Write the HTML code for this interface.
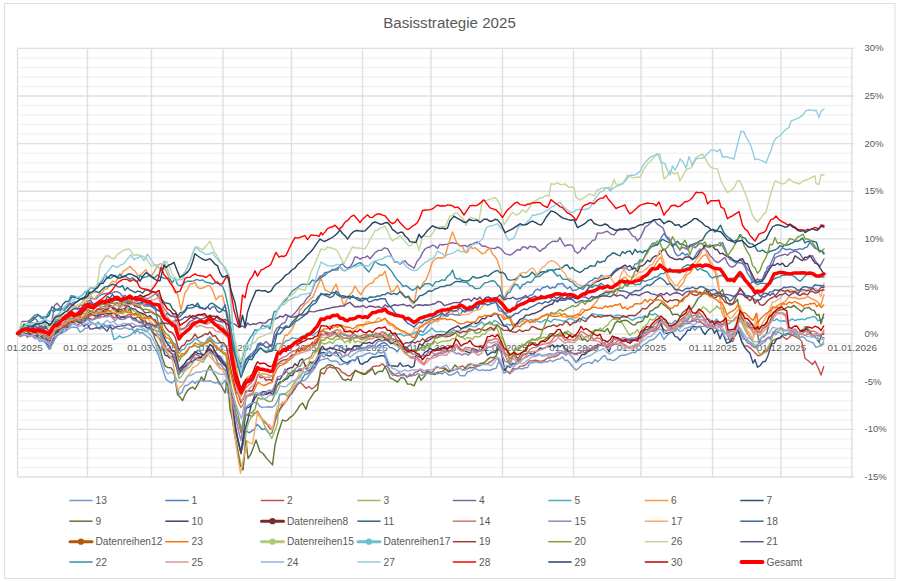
<!DOCTYPE html>
<html><head><meta charset="utf-8"><title>Basisstrategie 2025</title>
<style>
html,body{margin:0;padding:0;background:#fff;}
body{width:900px;height:582px;overflow:hidden;font-family:"Liberation Sans",sans-serif;}
svg{display:block}
.ax{font-family:"Liberation Sans",sans-serif;font-size:9.9px;fill:#595959;}
.ay{font-family:"Liberation Sans",sans-serif;font-size:9.5px;fill:#595959;}
.lg{font-family:"Liberation Sans",sans-serif;font-size:10.2px;fill:#595959;}
.tt{font-family:"Liberation Sans",sans-serif;font-size:15.1px;fill:#595959;}
</style></head><body>
<svg width="900" height="582" viewBox="0 0 900 582">
<defs><clipPath id="cc"><rect x="5.5" y="4" width="889" height="574"/></clipPath></defs>
<rect x="0" y="0" width="900" height="582" fill="#ffffff"/>
<rect x="4.5" y="3.5" width="890.5" height="575" fill="#ffffff" stroke="#E0E0E0" stroke-width="1"/>
<g>
<line x1="17.5" y1="477.02" x2="854.2" y2="477.02" stroke="#DFDFDF" stroke-width="1.4"/>
<line x1="17.5" y1="467.50" x2="854.2" y2="467.50" stroke="#F3F3F3" stroke-width="1.5"/>
<line x1="17.5" y1="457.97" x2="854.2" y2="457.97" stroke="#F3F3F3" stroke-width="1.5"/>
<line x1="17.5" y1="448.45" x2="854.2" y2="448.45" stroke="#F3F3F3" stroke-width="1.5"/>
<line x1="17.5" y1="438.92" x2="854.2" y2="438.92" stroke="#F3F3F3" stroke-width="1.5"/>
<line x1="17.5" y1="429.40" x2="854.2" y2="429.40" stroke="#DFDFDF" stroke-width="1.4"/>
<line x1="17.5" y1="419.88" x2="854.2" y2="419.88" stroke="#F3F3F3" stroke-width="1.5"/>
<line x1="17.5" y1="410.35" x2="854.2" y2="410.35" stroke="#F3F3F3" stroke-width="1.5"/>
<line x1="17.5" y1="400.82" x2="854.2" y2="400.82" stroke="#F3F3F3" stroke-width="1.5"/>
<line x1="17.5" y1="391.30" x2="854.2" y2="391.30" stroke="#F3F3F3" stroke-width="1.5"/>
<line x1="17.5" y1="381.77" x2="854.2" y2="381.77" stroke="#DFDFDF" stroke-width="1.4"/>
<line x1="17.5" y1="372.25" x2="854.2" y2="372.25" stroke="#F3F3F3" stroke-width="1.5"/>
<line x1="17.5" y1="362.72" x2="854.2" y2="362.72" stroke="#F3F3F3" stroke-width="1.5"/>
<line x1="17.5" y1="353.20" x2="854.2" y2="353.20" stroke="#F3F3F3" stroke-width="1.5"/>
<line x1="17.5" y1="343.67" x2="854.2" y2="343.67" stroke="#F3F3F3" stroke-width="1.5"/>
<line x1="17.5" y1="334.15" x2="854.2" y2="334.15" stroke="#DFDFDF" stroke-width="1.4"/>
<line x1="17.5" y1="324.62" x2="854.2" y2="324.62" stroke="#F3F3F3" stroke-width="1.5"/>
<line x1="17.5" y1="315.10" x2="854.2" y2="315.10" stroke="#F3F3F3" stroke-width="1.5"/>
<line x1="17.5" y1="305.57" x2="854.2" y2="305.57" stroke="#F3F3F3" stroke-width="1.5"/>
<line x1="17.5" y1="296.05" x2="854.2" y2="296.05" stroke="#F3F3F3" stroke-width="1.5"/>
<line x1="17.5" y1="286.52" x2="854.2" y2="286.52" stroke="#DFDFDF" stroke-width="1.4"/>
<line x1="17.5" y1="277.00" x2="854.2" y2="277.00" stroke="#F3F3F3" stroke-width="1.5"/>
<line x1="17.5" y1="267.47" x2="854.2" y2="267.47" stroke="#F3F3F3" stroke-width="1.5"/>
<line x1="17.5" y1="257.95" x2="854.2" y2="257.95" stroke="#F3F3F3" stroke-width="1.5"/>
<line x1="17.5" y1="248.42" x2="854.2" y2="248.42" stroke="#F3F3F3" stroke-width="1.5"/>
<line x1="17.5" y1="238.90" x2="854.2" y2="238.90" stroke="#DFDFDF" stroke-width="1.4"/>
<line x1="17.5" y1="229.37" x2="854.2" y2="229.37" stroke="#F3F3F3" stroke-width="1.5"/>
<line x1="17.5" y1="219.85" x2="854.2" y2="219.85" stroke="#F3F3F3" stroke-width="1.5"/>
<line x1="17.5" y1="210.32" x2="854.2" y2="210.32" stroke="#F3F3F3" stroke-width="1.5"/>
<line x1="17.5" y1="200.80" x2="854.2" y2="200.80" stroke="#F3F3F3" stroke-width="1.5"/>
<line x1="17.5" y1="191.27" x2="854.2" y2="191.27" stroke="#DFDFDF" stroke-width="1.4"/>
<line x1="17.5" y1="181.75" x2="854.2" y2="181.75" stroke="#F3F3F3" stroke-width="1.5"/>
<line x1="17.5" y1="172.22" x2="854.2" y2="172.22" stroke="#F3F3F3" stroke-width="1.5"/>
<line x1="17.5" y1="162.70" x2="854.2" y2="162.70" stroke="#F3F3F3" stroke-width="1.5"/>
<line x1="17.5" y1="153.17" x2="854.2" y2="153.17" stroke="#F3F3F3" stroke-width="1.5"/>
<line x1="17.5" y1="143.65" x2="854.2" y2="143.65" stroke="#DFDFDF" stroke-width="1.4"/>
<line x1="17.5" y1="134.12" x2="854.2" y2="134.12" stroke="#F3F3F3" stroke-width="1.5"/>
<line x1="17.5" y1="124.60" x2="854.2" y2="124.60" stroke="#F3F3F3" stroke-width="1.5"/>
<line x1="17.5" y1="115.07" x2="854.2" y2="115.07" stroke="#F3F3F3" stroke-width="1.5"/>
<line x1="17.5" y1="105.55" x2="854.2" y2="105.55" stroke="#F3F3F3" stroke-width="1.5"/>
<line x1="17.5" y1="96.02" x2="854.2" y2="96.02" stroke="#DFDFDF" stroke-width="1.4"/>
<line x1="17.5" y1="86.50" x2="854.2" y2="86.50" stroke="#F3F3F3" stroke-width="1.5"/>
<line x1="17.5" y1="76.97" x2="854.2" y2="76.97" stroke="#F3F3F3" stroke-width="1.5"/>
<line x1="17.5" y1="67.45" x2="854.2" y2="67.45" stroke="#F3F3F3" stroke-width="1.5"/>
<line x1="17.5" y1="57.92" x2="854.2" y2="57.92" stroke="#F3F3F3" stroke-width="1.5"/>
<line x1="17.5" y1="48.40" x2="854.2" y2="48.40" stroke="#DFDFDF" stroke-width="1.4"/>
<line x1="17.5" y1="48.4" x2="17.5" y2="477.0" stroke="#DFDFDF" stroke-width="1.4"/>
<line x1="87.5" y1="48.4" x2="87.5" y2="477.0" stroke="#DFDFDF" stroke-width="1.4"/>
<line x1="151.5" y1="48.4" x2="151.5" y2="477.0" stroke="#DFDFDF" stroke-width="1.4"/>
<line x1="223.0" y1="48.4" x2="223.0" y2="477.0" stroke="#DFDFDF" stroke-width="1.4"/>
<line x1="291.5" y1="48.4" x2="291.5" y2="477.0" stroke="#DFDFDF" stroke-width="1.4"/>
<line x1="362.5" y1="48.4" x2="362.5" y2="477.0" stroke="#DFDFDF" stroke-width="1.4"/>
<line x1="431.0" y1="48.4" x2="431.0" y2="477.0" stroke="#DFDFDF" stroke-width="1.4"/>
<line x1="502.5" y1="48.4" x2="502.5" y2="477.0" stroke="#DFDFDF" stroke-width="1.4"/>
<line x1="573.5" y1="48.4" x2="573.5" y2="477.0" stroke="#DFDFDF" stroke-width="1.4"/>
<line x1="641.0" y1="48.4" x2="641.0" y2="477.0" stroke="#DFDFDF" stroke-width="1.4"/>
<line x1="712.5" y1="48.4" x2="712.5" y2="477.0" stroke="#DFDFDF" stroke-width="1.4"/>
<line x1="781.0" y1="48.4" x2="781.0" y2="477.0" stroke="#DFDFDF" stroke-width="1.4"/>
<line x1="851.8" y1="48.4" x2="851.8" y2="477.0" stroke="#DFDFDF" stroke-width="1.4"/>
</g>
<text x="449.5" y="27.5" class="tt" text-anchor="middle">Basisstrategie 2025</text>
<g><text x="864.5" y="480.0" class="ay">-15%</text>
<text x="864.5" y="432.4" class="ay">-10%</text>
<text x="864.5" y="384.8" class="ay">-5%</text>
<text x="864.5" y="337.1" class="ay">0%</text>
<text x="864.5" y="289.5" class="ay">5%</text>
<text x="864.5" y="241.9" class="ay">10%</text>
<text x="864.5" y="194.3" class="ay">15%</text>
<text x="864.5" y="146.6" class="ay">20%</text>
<text x="864.5" y="99.0" class="ay">25%</text>
<text x="864.5" y="51.4" class="ay">30%</text></g>
<g clip-path="url(#cc)"><text x="18.0" y="351.2" class="ax" text-anchor="middle">01.01.2025</text>
<text x="88.0" y="351.2" class="ax" text-anchor="middle">01.02.2025</text>
<text x="152.0" y="351.2" class="ax" text-anchor="middle">01.03.2025</text>
<text x="223.5" y="351.2" class="ax" text-anchor="middle">01.04.2025</text>
<text x="292.0" y="351.2" class="ax" text-anchor="middle">01.05.2025</text>
<text x="363.0" y="351.2" class="ax" text-anchor="middle">01.06.2025</text>
<text x="431.5" y="351.2" class="ax" text-anchor="middle">01.07.2025</text>
<text x="503.0" y="351.2" class="ax" text-anchor="middle">01.08.2025</text>
<text x="574.0" y="351.2" class="ax" text-anchor="middle">01.09.2025</text>
<text x="641.5" y="351.2" class="ax" text-anchor="middle">01.10.2025</text>
<text x="713.0" y="351.2" class="ax" text-anchor="middle">01.11.2025</text>
<text x="781.5" y="351.2" class="ax" text-anchor="middle">01.12.2025</text>
<text x="852.3" y="351.2" class="ax" text-anchor="middle">01.01.2026</text></g>
<g fill="none" stroke-linejoin="round" stroke-linecap="round">
<polyline points="17.5,334.0 20.0,331.7 22.5,330.6 25.0,327.8 27.5,326.2 30.0,323.7 32.5,323.0 35.0,323.0 37.5,322.0 40.0,322.4 42.5,321.0 45.0,320.4 47.5,323.3 50.0,324.5 53.0,322.2 56.0,316.5 58.7,314.8 61.3,309.9 64.0,308.4 66.7,306.2 69.3,304.5 72.0,303.3 74.7,301.8 77.3,301.6 80.0,299.4 82.7,299.2 85.3,297.9 88.0,295.4 90.7,299.0 93.3,298.4 96.0,299.1 99.0,296.0 102.0,294.3 105.0,293.7 107.5,293.2 110.0,293.8 112.5,292.9 115.0,291.6 117.5,291.8 120.0,293.1 122.5,296.5 125.0,295.3 127.5,297.5 130.0,298.6 132.5,297.2 135.0,300.0 137.5,300.9 140.0,296.6 142.5,297.7 145.0,297.9 147.5,299.3 150.0,303.5 152.5,305.5 155.0,306.7 157.5,320.1 160.0,330.6 163.0,340.4 166.0,349.3 169.0,351.3 172.0,353.6 175.0,354.8 179.0,370.6 181.7,366.6 184.3,364.0 187.0,360.9 189.7,357.3 192.3,354.4 195.0,353.2 197.7,350.2 200.3,351.7 203.0,355.2 205.3,353.5 207.7,350.0 210.0,344.3 212.7,346.2 215.3,352.7 218.0,355.3 220.7,356.5 223.3,361.1 226.0,363.0 228.5,377.4 231.0,392.2 233.5,410.6 236.0,429.4 238.5,440.9 241.0,452.5 243.5,442.8 246.0,430.6 249.0,432.8 252.0,430.9 254.5,429.0 257.0,424.2 259.7,426.7 262.3,429.7 265.0,428.4 267.3,431.2 269.7,434.0 272.0,432.8 276.0,418.4 279.0,411.9 282.0,404.9 284.7,402.2 287.3,399.3 290.0,395.1 292.3,393.3 294.7,387.7 297.0,384.6 299.7,382.9 302.3,378.6 305.0,374.2 307.3,373.9 309.7,372.4 312.0,367.6 315.0,362.5 318.0,359.9 321.0,349.9 324.0,348.7 327.0,350.4 330.0,347.1 332.5,349.4 335.0,345.6 337.5,345.3 340.0,346.6 342.5,348.3 345.0,349.3 347.5,349.6 350.0,350.1 352.5,349.8 355.0,349.8 357.5,348.4 360.0,348.2 363.0,348.2 366.0,347.1 369.0,347.5 372.0,346.5 375.2,348.0 378.5,345.3 381.8,343.3 385.0,342.7 387.3,344.6 389.7,347.5 392.0,347.7 394.7,349.3 397.3,351.8 400.0,347.7 402.5,347.7 405.0,347.7 407.5,346.8 410.0,345.2 412.5,341.0 415.0,338.8 417.5,335.0 420.0,330.5 423.1,332.1 426.2,327.7 429.4,324.0 432.5,322.4 435.6,320.5 438.8,319.1 441.9,314.1 445.0,315.6 447.5,316.3 450.0,313.6 452.5,314.2 455.0,314.9 457.5,314.7 460.0,315.3 462.5,311.0 465.0,312.2 467.5,310.5 470.0,310.7 472.5,310.3 475.0,305.1 477.5,307.5 480.0,302.6 482.5,303.3 485.0,299.7 487.8,301.3 490.5,302.6 493.2,301.0 496.0,301.2 499.0,310.7 501.5,311.4 504.0,312.4 507.0,313.3 510.0,310.9 512.5,307.4 515.0,308.6 517.5,301.5 520.0,300.8 522.5,298.3 525.0,297.6 527.5,297.2 530.0,295.2 532.5,294.7 535.0,290.7 537.5,289.0 540.0,290.6 542.5,287.8 545.0,287.2 547.5,286.0 550.0,288.6 552.5,287.3 555.0,287.8 557.5,284.0 560.0,284.0 562.5,283.3 565.0,286.5 567.5,288.8 570.0,286.7 572.5,290.5 575.0,290.4 577.5,289.4 580.0,288.2 583.0,289.3 586.0,285.1 589.0,281.7 592.0,280.4 595.0,277.9 598.1,278.9 601.2,275.2 604.4,276.9 607.5,276.3 610.6,275.2 613.8,271.3 616.9,268.4 620.0,268.4 623.1,267.9 626.2,268.4 629.4,270.5 632.5,268.8 635.0,264.0 637.5,263.6 640.0,259.7 642.5,260.7 645.0,255.7 647.5,250.5 650.0,246.7 652.5,243.2 655.0,243.3 657.5,245.2 660.8,238.2 664.0,233.4 667.0,238.2 670.0,241.4 672.5,245.2 675.0,252.7 677.5,255.8 680.0,255.1 682.5,252.4 685.0,255.0 687.5,254.0 690.0,257.7 692.5,259.8 695.0,256.2 697.5,251.9 700.0,249.2 702.5,249.9 705.0,246.7 707.5,245.5 710.0,246.7 712.5,245.6 715.0,244.9 717.5,244.6 720.0,246.0 722.5,242.5 725.0,248.4 727.5,255.2 730.0,259.7 732.5,260.4 735.0,262.4 737.5,262.6 740.0,262.8 742.5,263.6 745.0,266.9 747.5,273.4 750.0,276.9 752.5,281.7 755.0,280.8 757.5,279.1 760.0,280.1 762.5,278.9 765.0,275.4 767.5,267.0 770.0,265.3 772.5,259.5 775.0,253.9 777.5,253.2 780.0,250.9 782.5,247.8 785.0,249.2 787.5,249.7 790.0,248.9 792.5,250.2 795.0,249.7 797.5,249.5 800.0,248.6 802.5,249.3 805.0,247.6 807.3,246.9 809.7,242.4 812.0,244.8 815.0,248.3 818.0,249.7 821.0,250.8 824.0,252.5" stroke="#4F81BD" stroke-width="1.4"/>
<polyline points="17.5,334.0 20.0,336.5 22.5,332.1 25.0,334.4 27.5,337.4 30.0,334.2 32.5,336.3 35.0,337.7 37.5,336.7 40.0,338.2 42.5,339.5 45.0,338.2 47.5,341.6 50.0,344.3 53.0,339.6 56.0,333.0 58.7,331.2 61.3,328.3 64.0,327.7 66.7,327.6 69.3,325.6 72.0,323.2 74.7,322.3 77.3,326.0 80.0,323.0 82.5,322.3 85.0,316.8 87.5,319.3 90.0,318.4 92.5,319.7 95.0,317.9 97.5,316.5 100.0,316.5 102.5,313.0 105.0,316.0 107.5,315.1 110.0,313.4 112.5,316.6 115.0,318.1 117.5,314.8 120.0,316.4 122.5,316.7 125.0,316.3 127.5,315.0 130.0,314.1 132.5,318.7 135.0,318.8 137.5,316.7 140.0,317.8 142.5,321.8 145.0,322.1 147.5,323.9 150.0,322.7 152.5,323.8 155.0,327.2 157.5,326.7 160.0,331.3 163.0,339.5 166.0,348.5 169.0,350.3 172.0,354.4 175.0,358.4 179.0,372.3 181.7,370.1 184.3,367.1 187.0,363.7 189.7,362.1 192.3,358.2 195.0,354.3 197.7,355.2 200.3,356.9 203.0,357.9 205.3,354.9 207.7,351.4 210.0,348.2 212.7,351.2 215.3,353.0 218.0,358.4 220.7,361.5 223.3,363.4 226.0,364.8 228.5,379.2 231.0,391.1 233.5,401.1 236.0,415.1 238.5,421.9 241.0,432.7 243.5,423.1 246.0,415.1 248.9,414.7 251.8,416.8 254.6,413.5 257.5,411.3 260.0,415.2 262.5,420.5 265.0,422.7 267.5,424.8 270.0,428.7 272.5,429.6 275.0,419.8 277.5,410.5 280.6,408.4 283.8,404.1 286.9,400.3 290.0,394.0 292.5,391.5 295.0,389.0 297.5,384.3 300.0,382.0 303.0,385.0 306.0,388.3 308.9,386.5 311.8,389.0 314.6,387.0 317.5,383.8 321.0,372.6 324.0,374.0 327.0,368.3 330.0,366.8 333.0,368.0 336.0,367.5 339.2,368.7 342.5,372.7 345.0,373.6 347.5,375.7 350.0,375.7 353.0,372.8 356.0,370.8 359.0,372.1 362.0,373.0 365.0,374.0 367.5,371.2 370.0,369.6 373.1,366.6 376.2,366.0 379.4,365.9 382.5,363.7 385.0,366.4 387.5,366.3 390.0,370.4 392.5,373.0 395.0,375.1 397.5,376.0 400.6,375.6 403.8,373.6 406.9,377.3 410.0,375.5 412.5,375.7 415.0,372.1 417.5,371.6 420.0,369.4 422.5,372.3 425.0,373.1 427.5,369.9 430.0,372.5 432.5,372.1 435.0,368.5 437.5,367.2 440.0,368.0 442.5,368.3 445.0,368.0 447.5,370.2 450.0,371.2 452.5,370.5 455.0,369.5 457.5,369.4 460.0,367.0 462.5,365.9 465.0,367.8 467.5,369.0 470.0,367.5 472.5,367.7 475.0,367.0 477.5,366.4 480.0,363.4 482.5,363.1 485.0,364.2 487.5,363.8 490.0,361.9 492.5,360.6 495.0,358.1 497.5,358.1 500.8,364.1 504.0,369.9 507.0,371.2 510.0,373.8 512.5,368.7 515.0,368.9 517.5,368.9 520.0,366.1 523.1,366.1 526.2,364.5 529.4,360.9 532.5,360.8 535.6,360.1 538.8,361.0 541.9,361.1 545.0,360.0 547.5,358.0 550.0,357.7 552.5,356.9 555.0,356.7 557.5,355.5 560.0,353.4 562.5,351.5 565.0,352.2 567.5,351.6 570.0,351.6 572.5,353.2 575.0,353.6 577.5,353.3 580.0,353.2 582.5,351.3 585.0,353.1 587.5,349.8 590.0,350.9 592.5,349.1 595.0,349.0 597.5,344.2 600.0,345.1 602.5,345.9 605.0,345.5 607.5,347.6 610.0,344.9 612.5,345.3 615.0,343.7 617.5,344.0 620.0,342.9 622.5,341.4 625.0,341.5 627.5,339.3 630.0,341.8 632.5,339.1 635.0,340.2 637.5,341.3 640.0,337.6 642.5,336.3 645.0,336.0 647.5,333.8 650.0,331.5 652.5,331.4 655.0,330.5 658.0,328.4 661.0,324.3 663.3,329.1 665.7,330.9 668.0,330.0 670.3,330.1 672.7,328.2 675.0,329.3 677.5,326.0 680.0,326.7 682.5,324.5 685.0,323.4 687.3,323.5 689.7,323.2 692.0,320.0 694.7,320.0 697.3,322.1 700.0,321.7 702.7,323.3 705.3,326.0 708.0,326.0 710.9,324.0 713.8,326.6 716.7,323.0 719.9,325.5 723.0,324.4 725.0,320.0 728.0,336.4 730.5,341.5 733.0,341.2 735.5,333.8 738.0,328.6 741.7,341.5 744.5,346.0 747.2,345.9 750.0,347.9 752.5,350.0 755.0,352.9 758.0,355.7 760.9,355.0 763.8,351.5 766.7,351.6 769.9,346.0 773.0,340.4 775.5,339.2 778.0,338.2 780.2,338.0 782.5,336.3 786.7,339.4 789.2,337.5 791.7,334.9 794.2,336.0 796.7,337.4 799.2,338.6 801.7,341.4 805.0,358.3 807.5,360.3 810.0,362.2 812.5,364.5 815.0,361.1 818.0,367.5 821.0,375.0 823.7,366.7" stroke="#C0504D" stroke-width="1.4"/>
<polyline points="17.5,334.0 19.8,333.1 22.0,336.5 25.0,333.2 27.5,333.3 30.0,334.5 32.5,334.3 35.0,335.3 37.5,336.0 40.0,338.0 42.5,335.7 45.0,338.2 47.8,344.2 50.5,349.1 53.2,339.6 56.0,332.6 58.7,329.3 61.3,329.3 64.0,327.7 66.7,325.8 69.3,324.4 72.0,321.9 74.7,319.6 77.3,320.4 80.0,320.4 82.5,318.0 85.0,317.3 87.5,317.2 90.0,314.2 92.5,315.2 95.0,316.1 97.5,312.4 100.0,312.1 102.5,311.3 105.0,313.0 107.5,311.2 110.0,310.8 112.5,310.0 115.0,311.4 117.5,312.2 120.0,311.4 122.5,313.9 125.0,312.4 127.5,307.9 130.0,309.7 132.5,309.8 135.0,312.0 137.5,313.3 140.0,312.7 142.5,314.8 145.0,317.9 147.5,316.5 150.0,317.1 152.5,319.2 155.0,322.1 157.5,327.2 160.0,331.5 163.0,340.6 166.0,350.2 169.0,357.0 172.0,357.8 175.0,361.4 179.0,378.5 181.7,376.0 184.3,371.4 187.0,368.9 189.7,366.9 192.3,363.7 195.0,358.8 197.7,360.5 200.3,360.6 203.0,362.4 205.3,358.4 207.7,355.2 210.0,351.7 212.7,357.7 215.3,362.7 218.0,364.7 220.7,368.7 223.3,368.9 226.0,372.1 228.5,389.4 231.0,406.4 233.5,422.1 236.0,439.9 238.5,453.2 241.0,464.7 243.0,470.0 246.0,431.4 249.0,421.3 251.6,416.7 254.1,412.5 256.7,412.5 259.4,416.2 262.0,419.5 265.3,427.5 268.5,432.5 271.8,438.5 275.0,430.4 277.5,423.6 279.4,394.4 282.6,393.6 285.8,393.4 289.0,390.9 292.0,387.1 295.0,381.4 297.7,379.1 300.3,377.6 303.0,371.4 305.7,372.7 308.3,366.3 311.0,364.0 313.3,361.5 315.7,360.0 318.0,354.9 321.0,342.1 324.0,344.0 327.0,343.2 330.0,341.6 332.5,343.8 335.0,340.3 337.5,339.2 340.0,338.8 342.5,339.8 345.0,342.7 347.5,340.5 350.0,342.7 352.5,337.8 355.0,342.4 357.5,341.1 360.0,341.8 363.0,343.2 366.0,340.4 369.0,339.2 372.0,338.6 375.2,337.4 378.5,337.0 381.8,338.2 385.0,337.0 387.3,338.9 389.7,340.1 392.0,342.8 394.7,344.6 397.3,345.9 400.0,348.6 402.5,348.8 405.0,348.5 407.5,352.7 410.0,352.4 412.5,350.3 415.0,351.8 417.5,350.4 420.0,347.6 422.5,350.2 425.0,347.8 427.5,347.3 430.0,345.2 432.5,344.2 435.0,341.5 437.5,343.7 440.0,342.0 442.5,341.3 445.0,341.4 447.5,340.7 450.0,340.6 452.5,338.8 455.0,338.4 457.5,335.0 460.0,336.6 462.5,337.7 465.0,339.3 467.5,337.5 470.0,337.9 472.5,339.3 475.0,336.4 477.5,336.7 480.0,336.5 482.5,333.9 485.0,334.1 487.5,330.6 490.0,330.2 492.3,328.8 494.7,328.1 497.0,328.0 500.0,336.6 503.0,339.4 505.3,344.7 507.7,350.6 510.0,354.1 512.3,353.4 514.7,351.2 517.0,347.8 519.7,347.8 522.3,344.1 525.0,345.7 527.5,341.5 530.0,341.3 532.5,340.3 535.0,339.6 537.5,340.2 540.0,338.8 542.5,337.3 545.0,337.5 547.5,338.5 550.0,336.3 552.5,336.0 555.0,336.1 557.5,334.9 560.0,332.4 562.5,336.5 565.0,335.0 567.5,330.6 570.0,332.5 573.1,334.6 576.2,337.5 579.4,339.2 582.5,339.8 585.0,336.9 587.5,336.2 590.0,335.7 592.5,331.5 595.0,330.7 597.5,331.0 600.0,328.1 602.5,329.8 605.0,326.6 607.5,325.4 610.0,321.7 612.5,319.2 615.0,319.4 617.5,319.8 620.0,319.4 622.5,323.5 625.0,328.0 627.5,332.2 630.0,335.5 632.5,332.9 635.0,332.6 637.5,329.5 640.0,334.2 642.5,327.9 645.0,326.0 647.5,323.8 650.0,318.8 652.5,320.1 655.0,318.8 657.5,315.8 660.0,317.8 662.5,321.8 665.0,321.5 667.5,327.6 670.0,330.2 672.5,329.2 675.0,327.7 677.5,327.3 680.0,323.8 682.5,324.1 685.0,321.0 687.5,320.7 690.0,316.9 692.5,315.7 695.0,315.6 697.7,312.5 700.3,309.9 703.0,307.0 705.3,308.3 707.7,310.8 710.0,312.8 712.3,310.6 714.7,308.8 717.0,306.0 720.0,308.9 723.0,307.6 726.7,327.5 729.9,332.9 733.0,335.1 735.5,326.4 738.0,317.5 741.7,322.8 744.5,328.8 747.2,333.6 750.0,336.9 752.5,342.1 755.0,345.2 759.0,353.1 762.0,354.6 765.0,352.7 767.5,347.7 770.0,343.7 773.0,335.2 775.9,331.4 778.8,331.1 781.7,328.2 784.2,334.6 786.7,333.6 789.9,334.9 793.0,331.1 795.3,334.2 797.7,337.0 800.0,332.7 802.5,330.4 805.0,326.5 807.5,328.4 810.0,330.4 812.2,335.1 814.5,334.2 816.7,333.5 819.2,342.4 821.7,346.0 823.7,341.0" stroke="#9BBB59" stroke-width="1.4"/>
<polyline points="17.5,334.0 19.8,329.5 22.0,321.5 25.0,321.4 28.0,321.1 31.0,319.7 34.0,317.7 37.0,320.3 40.0,327.1 43.0,332.6 46.0,337.3 49.5,348.8 52.0,320.4 54.5,305.6 57.0,303.2 59.5,306.2 62.0,308.8 64.7,307.8 67.3,307.3 70.0,302.8 72.5,305.7 75.0,306.2 77.5,309.2 80.0,305.1 82.5,305.3 85.0,304.6 87.5,304.9 90.0,302.6 92.5,305.2 95.0,303.2 97.5,304.7 100.0,304.5 103.0,304.2 106.0,302.1 109.0,299.8 112.0,302.1 115.0,300.3 118.0,299.8 121.0,301.0 124.0,302.5 127.0,300.5 130.0,301.9 132.9,303.1 135.7,303.9 138.6,303.4 141.4,301.5 144.3,306.1 147.1,306.0 150.0,306.0 152.5,307.2 155.0,309.3 157.5,310.0 160.0,311.1 162.5,314.2 165.0,317.6 167.5,320.8 170.0,324.0 172.5,326.9 175.0,325.9 177.5,329.4 180.0,329.1 182.5,328.6 185.0,327.9 187.5,324.5 190.0,321.3 192.5,320.4 195.0,318.7 197.5,314.5 200.0,314.5 203.0,315.6 206.0,315.9 209.0,317.3 212.0,318.7 215.2,320.0 218.5,321.3 221.8,322.0 225.0,321.7 227.3,329.8 229.7,337.0 232.0,344.7 235.0,352.4 238.0,358.0 241.0,367.7 244.0,363.3 247.0,358.0 250.0,355.0 252.5,353.0 255.0,349.9 257.5,350.2 260.0,342.7 263.0,344.6 266.0,341.6 269.0,344.4 272.0,345.4 274.5,332.4 277.0,328.1 279.7,326.2 282.3,323.6 285.0,322.5 288.1,316.0 291.2,316.7 294.4,313.6 297.5,310.0 300.6,305.6 303.8,303.2 306.9,298.2 310.0,295.2 312.5,289.5 315.0,282.5 317.5,280.3 320.0,276.2 322.5,275.7 325.0,272.5 327.5,272.1 330.0,271.6 332.5,269.9 335.0,270.1 337.5,270.1 340.0,265.2 342.5,263.9 345.0,266.8 347.5,268.1 350.0,266.8 352.5,263.1 355.0,256.9 357.5,257.2 360.0,259.3 362.5,257.6 365.0,257.4 367.5,255.9 370.0,258.7 372.5,255.7 375.5,252.3 378.5,250.4 381.5,250.2 384.5,247.8 387.5,248.7 390.0,253.0 392.5,258.0 395.0,262.3 397.5,261.8 400.0,264.2 402.5,262.4 405.0,260.7 408.0,264.4 411.0,266.2 414.0,268.3 417.0,261.5 420.0,257.9 422.5,252.6 425.0,249.0 427.5,247.5 430.0,247.0 432.5,245.1 435.0,246.1 437.5,248.4 440.0,244.4 442.5,245.0 445.0,244.4 447.5,244.2 450.0,243.2 452.5,242.6 455.0,243.3 457.5,243.7 460.0,245.7 462.5,245.8 465.0,245.4 467.5,246.8 470.0,244.5 472.5,244.2 475.0,242.7 477.5,241.9 480.0,243.9 482.5,246.4 485.0,246.0 487.5,247.4 490.0,248.4 492.5,248.4 495.0,248.6 497.5,246.9 500.0,248.1 502.5,250.4 505.0,253.7 507.5,254.4 510.0,255.2 512.5,253.8 515.0,251.6 517.5,249.5 520.0,250.4 522.5,247.0 525.0,246.9 527.5,248.8 530.0,246.1 532.5,247.1 535.0,246.8 537.5,249.2 540.0,251.5 542.5,249.0 545.0,248.0 547.5,244.8 550.0,243.0 552.5,241.4 555.0,241.3 557.5,241.6 560.0,237.7 562.5,242.7 565.0,246.2 567.5,245.0 570.0,244.8 572.5,245.7 575.0,251.3 577.5,253.1 580.0,251.6 582.5,247.3 585.0,249.2 587.5,245.4 590.0,243.7 592.5,240.4 595.0,239.9 597.5,233.0 600.0,233.1 602.5,233.1 605.0,231.9 607.5,231.3 611.0,234.2 614.2,234.9 617.5,230.4 620.0,228.7 622.5,229.9 625.0,229.2 627.5,229.1 630.0,232.1 632.5,235.8 635.0,236.8 637.5,240.9 640.0,238.1 642.5,233.1 645.0,227.4 648.0,225.3 651.0,222.4 654.0,220.0 657.0,223.9 660.0,225.9 663.0,228.0 666.0,236.0 669.2,238.4 672.5,244.6 675.0,244.1 677.5,246.4 680.0,249.5 682.5,247.3 685.0,248.2 687.5,249.7 690.0,246.5 692.5,245.7 695.0,247.8 697.5,245.4 700.0,243.2 702.5,243.7 705.0,249.1 707.5,251.4 710.0,255.7 712.5,258.0 715.0,261.1 717.5,262.7 720.0,261.4 722.5,259.1 725.0,257.7 727.5,263.2 730.0,266.4 732.5,267.2 735.0,265.6 737.5,262.3 740.0,259.0 742.5,262.1 745.0,264.5 747.5,269.5 750.0,271.4 752.5,278.6 755.0,281.5 757.5,279.0 760.0,281.3 762.5,279.8 765.0,272.1 767.5,271.7 770.0,265.7 772.5,265.0 775.0,257.8 777.5,256.5 780.0,255.7 782.5,255.0 785.0,254.2 787.5,255.4 790.0,252.7 792.5,252.1 795.0,251.0 797.5,252.0 800.0,253.9 802.5,257.8 805.0,260.2 807.5,258.8 810.0,256.5 812.5,255.6 815.0,260.4 817.5,263.8 820.0,266.1 824.0,259.0" stroke="#8064A2" stroke-width="1.4"/>
<polyline points="17.5,334.0 20.0,332.2 22.5,333.3 25.0,329.5 27.5,330.1 30.0,329.7 32.5,326.9 35.0,326.7 37.5,324.0 40.0,326.1 42.5,324.9 45.0,322.6 47.5,326.9 50.0,327.2 53.0,325.8 56.0,319.4 58.7,319.4 61.3,319.0 64.0,317.7 66.7,317.7 69.3,316.0 72.0,316.6 74.7,316.6 77.3,317.6 80.0,315.5 82.3,320.2 84.7,319.6 87.0,318.4 89.8,321.4 92.5,322.9 95.4,324.3 98.3,322.1 101.2,325.6 104.2,324.2 107.1,327.7 110.0,324.9 114.0,339.6 116.7,338.2 119.4,335.9 122.1,337.8 124.8,337.2 127.5,336.4 130.6,335.1 133.8,332.0 136.9,329.0 140.0,329.4 143.0,330.0 146.0,331.8 150.0,328.5 152.5,329.2 155.0,329.7 157.5,331.2 160.0,331.9 163.0,336.3 166.0,340.7 169.0,343.0 172.0,342.6 175.0,343.6 179.0,353.3 181.7,350.0 184.3,349.4 187.0,344.5 189.7,343.8 192.3,342.0 195.0,338.7 197.7,340.0 200.3,342.2 203.0,343.0 205.3,342.9 207.7,338.5 210.0,336.7 212.7,340.2 215.3,342.6 218.0,343.2 220.7,342.5 223.3,345.8 226.0,346.7 228.5,351.3 231.0,354.6 233.5,360.5 236.0,365.7 238.5,367.9 241.0,370.3 243.5,366.3 246.0,360.4 249.0,357.6 252.0,355.8 255.0,350.7 258.0,347.9 260.7,348.2 263.3,350.0 266.0,351.4 269.0,349.3 272.0,350.8 274.5,348.0 277.0,343.7 280.0,343.4 283.0,344.1 286.0,340.8 289.0,340.2 292.0,337.7 295.0,338.4 297.3,338.9 299.7,337.6 302.0,336.4 304.7,335.5 307.3,335.5 310.0,333.7 312.8,335.6 315.5,333.2 318.2,331.3 321.0,331.3 324.0,331.0 327.0,333.6 330.0,334.0 332.5,331.6 335.0,334.5 337.5,335.0 340.0,333.5 342.5,333.0 345.0,334.3 347.5,335.2 350.0,337.3 352.5,336.5 355.0,334.5 357.5,337.3 360.0,336.1 363.1,338.2 366.2,335.2 369.4,335.1 372.5,334.5 375.6,334.4 378.8,336.4 381.9,335.8 385.0,334.5 388.1,334.9 391.2,332.6 394.4,333.8 397.5,334.1 400.6,333.8 403.8,336.0 406.9,334.9 410.0,335.4 413.1,333.9 416.2,331.9 419.4,334.5 422.5,335.3 425.6,333.4 428.8,331.1 431.9,327.9 435.0,331.2 438.1,331.9 441.2,331.3 444.4,331.9 447.5,332.6 450.6,332.2 453.8,329.9 456.9,331.4 460.0,330.7 463.1,327.5 466.2,327.7 469.4,325.8 472.5,326.6 475.6,326.9 478.8,324.2 481.9,321.9 485.0,325.2 488.1,323.3 491.2,324.4 494.4,320.3 497.5,322.0 500.6,324.5 503.8,326.0 506.9,324.2 510.0,325.2 513.0,323.8 516.0,324.3 519.0,323.5 522.0,321.3 525.0,318.8 527.9,321.0 530.7,319.5 533.6,320.7 536.4,320.5 539.3,322.2 542.1,321.8 545.0,319.6 548.0,320.5 551.0,322.0 554.0,319.1 557.0,319.7 560.0,320.1 563.0,321.1 566.0,320.7 569.0,318.6 572.0,318.7 575.0,321.2 577.5,320.1 580.0,322.0 582.5,316.7 585.6,318.9 588.8,317.5 591.9,313.6 595.0,314.3 598.0,315.2 601.0,314.8 604.0,315.5 607.0,316.4 610.2,314.9 613.5,316.4 616.8,315.2 620.0,315.5 623.1,317.3 626.2,316.8 629.4,318.5 632.5,320.4 635.6,318.3 638.8,317.3 641.9,317.7 645.0,315.7 647.5,317.0 650.0,313.6 652.5,315.1 655.0,313.5 658.0,315.5 661.0,320.6 664.0,318.9 667.0,323.4 670.0,323.1 672.5,324.1 675.0,320.3 677.5,322.0 680.0,321.3 682.5,319.1 685.0,317.8 687.5,320.2 690.0,316.2 692.5,315.9 695.0,315.2 697.5,316.5 700.0,316.3 702.7,317.3 705.3,320.3 708.0,318.7 710.9,320.3 713.8,321.7 716.7,319.1 719.9,322.9 723.0,324.1 726.7,324.8 729.9,322.7 733.0,320.8 735.5,317.3 738.0,318.4 740.5,317.5 743.0,322.9 745.3,324.8 747.7,322.3 750.0,324.7 752.2,323.6 754.5,328.3 756.7,328.3 759.9,328.0 763.0,327.5 765.3,326.2 767.7,323.3 770.0,321.7 772.2,320.4 774.5,320.6 776.7,318.9 779.9,321.3 783.0,320.8 785.3,321.0 787.7,323.2 790.0,320.1 792.5,319.0 795.0,320.6 797.5,319.5 800.0,319.5 802.2,318.9 804.5,319.8 806.7,318.3 809.9,317.7 813.0,316.7 815.3,316.9 817.7,320.7 820.0,320.2 823.7,317.5" stroke="#4BACC6" stroke-width="1.4"/>
<polyline points="17.5,334.0 20.0,331.4 22.5,328.4 25.0,328.8 27.7,331.4 30.3,326.3 33.0,325.9 36.0,326.8 39.0,327.1 42.0,327.7 44.7,327.5 47.3,329.0 50.0,333.5 53.0,325.8 56.0,322.8 58.7,317.6 61.3,317.3 64.0,316.2 66.7,314.6 69.3,309.4 72.0,308.5 74.7,307.3 77.3,305.1 80.0,305.4 82.7,301.4 85.3,299.1 88.0,298.0 90.3,295.0 92.7,298.6 95.0,299.1 97.3,295.3 99.7,293.8 102.0,292.7 104.7,289.0 107.3,288.9 110.0,284.0 112.7,281.2 115.3,282.1 118.0,278.4 120.7,276.5 123.3,271.1 126.0,269.7 130.0,266.2 132.5,269.2 135.0,271.0 137.5,275.2 140.0,275.4 143.0,272.5 146.0,269.7 148.5,275.6 151.0,276.8 154.0,271.8 157.0,267.1 160.0,263.6 162.5,264.6 165.0,268.7 167.5,273.9 170.0,280.5 172.5,285.3 175.0,292.5 177.5,293.6 181.0,310.1 185.0,292.7 187.5,289.5 190.0,284.0 192.5,283.8 195.0,282.3 197.5,287.4 200.0,288.6 202.5,288.0 205.0,287.0 207.5,285.7 210.0,285.9 213.0,291.3 216.0,299.9 219.2,296.2 222.5,295.9 225.8,308.8 229.0,317.9 232.5,347.9 235.0,360.4 237.5,372.9 241.0,396.4 245.0,380.9 247.5,376.9 250.0,375.9 252.5,374.2 255.0,370.8 257.5,371.3 260.5,374.3 263.5,373.9 266.5,374.1 269.5,375.5 272.5,375.6 275.0,359.5 277.5,353.9 280.0,347.6 282.5,343.2 285.0,335.0 287.5,335.2 290.0,331.6 292.5,328.6 295.0,323.0 297.5,316.6 300.0,310.1 302.5,307.4 305.0,304.0 307.5,302.3 310.0,299.4 312.8,297.1 315.5,291.0 318.2,284.6 321.0,278.3 325.0,290.0 328.0,291.4 331.0,293.0 333.5,288.4 336.0,284.0 338.7,292.5 341.3,298.0 344.0,306.3 346.8,299.5 349.5,294.8 352.2,292.3 355.0,286.1 358.0,291.0 361.0,294.7 364.2,288.8 367.5,285.3 370.0,283.5 372.5,283.1 375.0,278.7 377.5,277.8 380.0,274.7 382.5,275.2 385.0,271.2 388.0,282.6 391.0,292.0 394.2,290.5 397.5,285.2 400.0,291.5 402.5,293.0 405.0,296.8 408.0,297.3 411.0,302.1 414.0,304.0 417.5,285.5 420.0,289.3 423.1,282.9 426.2,279.5 429.4,271.2 432.5,262.0 435.6,258.6 438.8,257.6 441.9,258.2 445.0,256.7 447.5,247.4 450.0,239.1 452.5,232.0 456.0,240.8 459.2,246.0 462.5,246.5 465.0,252.3 467.5,252.5 470.0,246.4 472.5,248.6 475.0,247.6 477.5,249.7 480.0,251.9 482.5,253.9 485.0,252.8 487.5,249.8 490.0,248.4 492.5,254.1 495.0,256.5 497.5,260.7 501.0,272.3 504.0,318.4 507.0,316.6 510.0,316.0 514.0,326.2 517.0,323.0 520.0,319.2 522.5,320.9 525.0,322.1 527.5,320.0 530.0,322.0 532.5,321.7 535.0,322.3 537.5,319.6 540.0,318.2 542.5,316.0 545.0,315.3 547.5,315.4 550.0,314.8 552.5,313.6 555.0,314.0 557.5,313.7 560.0,312.9 562.5,316.9 565.0,316.9 567.5,317.2 570.0,316.6 572.5,315.7 575.0,318.1 577.5,316.8 580.0,312.1 582.5,308.8 584.8,310.0 587.2,309.9 590.4,308.7 593.6,304.7 596.8,301.3 600.0,295.2 603.2,293.4 606.4,290.7 609.6,291.4 612.8,292.9 616.0,295.5 619.2,287.7 622.4,278.3 625.6,277.1 628.8,282.1 632.0,282.1 635.2,279.3 638.4,277.2 641.6,276.2 644.8,275.4 648.0,272.4 651.2,271.8 654.4,266.4 657.6,260.7 660.8,256.9 664.0,267.6 667.2,276.9 670.4,283.4 673.6,287.0 676.8,291.6 680.0,286.4 683.2,283.1 686.4,275.4 689.6,273.2 692.8,269.1 696.0,264.6 699.2,260.7 702.4,256.4 705.6,254.5 708.8,259.8 712.0,267.5 715.2,272.5 718.4,286.8 721.6,311.5 724.8,319.3 728.0,320.3 731.2,320.7 734.4,320.7 737.6,315.5 740.8,312.4 744.0,324.9 747.2,331.3 750.4,338.9 753.6,337.0 756.8,321.1 760.0,333.5 763.2,328.0 766.4,324.4 769.6,314.3 772.8,308.3 776.0,306.6 779.2,304.4 782.4,302.9 785.6,301.2 788.8,296.9 792.0,297.9 795.2,297.5 798.4,299.0 801.6,298.5 804.8,298.2 808.0,296.4 811.2,298.7 814.4,299.8 817.6,301.9 820.8,305.0 824.0,295.0" stroke="#F79646" stroke-width="1.4"/>
<polyline points="17.5,334.0 20.0,332.5 22.5,330.9 25.0,329.7 27.5,330.2 30.0,332.7 32.5,333.3 35.0,333.0 37.5,334.5 40.0,333.8 42.5,335.2 45.0,336.0 47.5,339.2 50.0,340.9 53.0,336.9 56.0,332.9 58.7,330.5 61.3,332.4 64.0,328.5 66.7,327.0 69.3,327.1 72.0,323.3 74.7,320.1 77.3,322.0 80.0,321.8 82.5,322.3 85.0,320.6 87.5,318.6 90.0,314.9 92.5,314.8 95.0,315.7 97.5,315.9 100.0,314.1 102.5,314.1 105.0,313.4 107.5,313.5 110.0,313.3 112.5,313.6 115.0,313.3 117.5,317.4 120.0,318.4 122.5,316.8 125.0,317.8 127.5,317.0 130.0,316.6 132.5,318.2 135.0,318.1 137.5,321.1 140.0,322.9 142.5,321.9 145.0,326.4 147.5,328.1 150.0,327.6 152.5,332.5 155.0,334.4 157.5,336.3 160.0,339.5 162.5,346.4 165.0,355.1 167.5,356.0 170.0,358.3 172.5,356.3 175.0,362.1 179.0,374.5 182.5,367.5 185.0,366.3 187.5,364.9 190.0,362.7 192.5,361.1 195.0,359.8 197.5,357.7 200.0,357.7 202.5,355.4 205.0,354.1 207.5,350.8 210.0,350.0 212.5,352.4 215.0,355.8 217.5,356.2 220.0,360.4 222.5,363.6 225.0,365.9 227.5,367.2 230.0,388.3 232.5,409.8 236.0,430.7 238.5,443.2 241.0,452.4 245.0,429.4 247.5,420.8 250.0,410.2 252.5,401.4 255.0,394.3 257.5,394.1 260.0,394.6 262.5,391.7 265.0,391.6 267.5,393.8 270.0,392.6 272.5,395.1 275.0,390.2 277.5,384.9 280.0,382.0 282.5,381.4 285.0,379.7 287.5,378.5 290.0,375.2 292.5,375.6 295.0,371.0 297.5,371.2 300.0,370.0 302.5,370.0 305.0,367.0 307.5,365.9 310.0,362.0 312.5,362.8 315.0,363.3 317.5,359.6 321.0,352.9 324.0,352.5 327.0,355.3 330.0,356.1 333.0,354.0 336.0,351.5 339.2,356.8 342.5,361.0 345.0,362.3 347.5,362.9 350.0,360.9 352.5,360.1 355.0,360.9 357.5,356.4 360.0,363.5 362.5,364.3 365.0,362.1 367.5,361.5 370.0,358.7 372.8,356.9 375.6,357.1 378.4,356.3 381.2,355.7 384.0,355.6 386.5,359.8 389.0,365.2 392.0,366.0 395.0,366.0 397.5,366.7 400.0,362.9 402.5,366.1 405.4,366.1 408.2,365.2 411.1,367.6 414.0,366.1 416.0,355.0 420.0,357.5 422.5,355.4 425.0,352.1 427.5,351.0 430.0,348.2 432.5,349.9 435.0,349.5 437.5,347.9 440.5,348.8 443.5,348.3 446.5,348.7 449.5,347.3 452.5,347.8 455.0,345.6 457.5,346.5 460.0,349.4 462.5,349.9 465.0,350.8 467.5,352.0 470.0,353.1 472.5,348.3 475.0,349.3 477.5,350.5 480.0,350.9 482.5,349.1 485.0,349.7 487.5,355.3 490.0,353.4 492.5,351.8 495.0,352.5 497.5,349.2 500.0,341.7 502.5,358.6 505.0,370.7 507.5,365.9 510.0,367.3 512.5,363.4 515.0,364.1 517.5,360.8 520.0,359.5 522.5,355.2 525.0,354.1 527.5,353.4 530.0,352.9 532.5,354.4 535.0,352.4 537.5,350.8 540.0,348.0 542.5,348.6 545.0,347.8 547.5,346.2 550.0,346.5 552.5,344.9 555.0,347.1 557.5,345.3 560.0,346.7 562.5,344.7 565.0,348.5 567.5,349.8 570.0,354.6 573.0,357.9 576.0,362.2 579.0,358.9 582.0,354.5 585.0,354.5 587.5,352.0 590.0,350.4 592.5,347.9 595.0,347.4 597.5,347.0 600.0,344.8 602.5,343.1 605.0,343.7 609.0,351.9 611.5,344.6 614.0,337.0 617.0,337.7 620.0,339.9 623.1,341.4 626.2,339.5 629.4,339.8 632.5,340.3 635.0,339.6 637.5,338.0 640.0,338.4 642.5,333.0 645.0,329.7 647.5,329.4 650.0,328.1 652.5,326.7 656.0,328.0 660.0,319.8 664.0,333.4 667.0,333.3 670.0,332.4 672.5,332.0 675.0,336.3 677.5,337.2 680.0,340.3 682.5,336.8 685.0,334.5 687.5,330.2 690.0,330.3 692.5,326.3 695.0,326.8 697.5,327.1 700.0,326.1 702.5,331.3 705.0,334.5 707.5,330.7 710.0,328.6 712.2,328.3 714.5,333.3 716.7,329.6 720.0,339.0 722.5,332.7 726.7,343.3 729.9,342.0 733.0,337.3 735.5,335.4 738.0,330.3 741.7,341.6 744.5,347.3 747.2,350.5 750.0,353.4 753.0,363.1 755.0,359.6 757.5,367.2 760.2,365.7 763.0,361.7 765.5,361.3 768.0,355.4 771.7,343.8 774.2,343.4 776.7,339.0 779.9,338.0 783.0,334.5 785.3,335.4 787.7,333.2 790.0,334.3 792.2,331.5 794.5,333.6 796.7,332.8 799.2,332.5 801.7,331.6 804.2,331.0 806.7,328.8 810.0,332.7 812.5,336.3 815.0,336.7 819.0,342.1 821.7,334.4 823.7,334.0" stroke="#2C4D75" stroke-width="1.4"/>
<polyline points="17.5,334.0 20.0,330.8 22.5,331.3 25.0,331.5 27.5,330.9 30.0,333.2 32.5,333.3 35.0,333.3 37.5,332.9 40.0,335.4 42.5,334.0 45.0,335.5 47.5,337.0 50.0,336.3 53.0,332.7 56.0,330.0 58.7,328.9 61.3,328.4 64.0,326.7 66.7,325.5 69.3,321.7 72.0,319.8 74.7,321.6 77.3,320.9 80.0,323.0 82.5,317.9 85.0,318.5 87.5,315.9 90.0,312.2 92.5,314.8 95.0,313.6 97.5,312.6 100.0,311.0 102.5,310.4 105.0,311.9 107.5,308.2 110.0,304.9 112.5,307.8 115.0,308.3 117.5,310.6 120.0,311.6 122.5,310.2 125.0,309.7 127.5,311.7 130.0,308.7 132.5,314.7 135.0,313.7 137.5,314.5 140.0,318.7 142.5,320.3 145.0,320.2 147.5,324.0 150.0,323.3 152.5,330.2 155.0,338.8 157.5,343.6 160.0,348.8 162.5,358.1 165.0,365.8 168.0,367.6 171.0,367.7 174.0,372.2 177.5,394.4 180.0,397.1 182.5,400.7 185.0,394.8 187.5,390.6 190.0,388.4 192.5,387.1 195.0,389.2 199.0,382.2 201.5,376.9 204.0,380.7 207.0,371.1 210.0,365.4 213.0,371.9 216.0,376.4 218.5,381.2 221.0,385.2 225.0,393.0 227.5,379.2 230.0,409.1 232.5,420.0 235.0,437.3 237.5,449.4 240.0,464.8 243.0,469.7 246.0,440.8 248.0,458.5 250.7,454.4 253.3,447.7 256.0,440.0 260.0,451.7 263.1,453.5 266.2,457.9 269.4,461.4 272.5,464.9 275.0,445.0 277.5,435.2 280.0,427.3 282.5,419.9 285.0,421.1 287.5,420.2 290.0,417.3 292.5,415.8 295.0,412.9 297.5,409.3 300.0,405.2 302.5,402.9 306.0,409.3 308.5,400.8 311.0,397.3 314.2,392.1 317.5,389.9 320.5,370.1 322.8,368.5 325.0,367.6 327.5,365.1 330.0,364.8 333.0,365.6 336.0,369.3 339.2,373.9 342.5,379.1 345.3,380.4 348.2,379.0 351.0,380.6 355.0,370.2 357.5,371.3 360.0,372.8 363.0,374.5 366.0,374.0 369.2,371.5 372.5,368.8 375.0,374.5 377.5,372.2 380.0,371.1 382.5,371.5 385.0,366.8 387.5,371.0 390.0,377.8 392.5,379.0 395.0,380.4 397.5,382.2 401.0,377.6 404.2,378.2 407.5,384.1 410.8,384.1 414.0,385.9 416.5,380.3 419.0,375.4 421.0,380.3 425.0,375.7 427.5,371.7 430.0,373.9 432.5,374.0 435.0,374.6 437.5,372.2 440.0,372.1 442.5,371.4 445.0,368.9 449.0,372.1 452.0,369.2 455.0,365.1 457.5,367.1 460.0,368.2 462.5,370.2 465.0,368.7 467.5,365.2 470.6,363.9 473.8,365.2 476.9,365.2 480.0,365.7 482.5,363.4 485.0,362.0 487.5,359.6 490.3,357.4 493.2,357.7 496.0,356.2 500.0,343.1 504.0,352.9 507.0,359.2 510.0,364.6 512.5,356.5 515.0,353.1 517.5,359.2 520.3,354.9 523.2,351.6 526.0,351.2 529.2,342.9 532.5,342.6 535.0,342.9 537.5,346.1 540.0,341.8 542.5,341.2 545.0,339.5 547.5,337.2 550.0,333.8 552.5,333.6 555.0,336.3 557.5,334.7 560.0,335.5 562.5,334.8 565.0,332.0 567.5,333.7 570.0,336.2 572.5,337.2 575.0,335.4 577.5,336.1 580.0,335.8 582.5,340.2 585.0,339.0 587.5,341.6 590.0,339.3 592.5,334.8 595.0,329.7 598.1,330.1 601.2,330.7 604.4,331.7 607.5,328.4 610.0,333.7 612.5,329.2 615.0,323.2 617.5,321.1 620.0,322.3 622.5,320.6 625.0,320.3 627.5,320.7 630.0,322.8 632.5,324.6 635.0,325.0 637.5,322.3 640.0,322.0 642.5,321.2 645.0,316.7 647.5,317.2 650.0,311.1 652.5,310.5 655.0,308.0 658.0,307.0 661.0,302.8 665.0,305.6 667.5,307.9 670.0,309.6 672.5,314.7 675.0,314.1 677.5,314.3 680.0,316.5 682.5,312.5 685.0,310.6 687.5,308.6 690.0,309.4 692.5,307.9 695.0,303.9 698.0,298.3 701.0,296.2 703.5,292.3 706.0,289.3 710.0,295.5 712.5,294.2 715.0,295.5 717.5,294.8 720.0,292.4 722.5,289.6 726.7,302.6 729.9,305.0 733.0,304.0 735.2,302.4 737.5,299.3 740.0,313.7 742.5,319.1 745.0,321.7 747.2,324.3 749.5,327.7 751.7,327.7 754.2,328.6 756.7,328.3 759.0,342.4 761.6,337.4 764.1,336.6 766.7,333.2 770.0,321.2 773.0,312.7 775.5,311.2 778.0,310.9 780.5,309.6 783.0,309.6 785.5,308.3 788.0,306.7 790.9,307.6 793.8,305.4 796.7,307.9 799.2,309.7 801.7,311.9 804.2,308.4 806.7,307.9 809.2,307.4 811.7,309.9 814.2,310.4 816.7,315.3 819.0,314.3 821.0,323.8 823.7,314.0" stroke="#5F7530" stroke-width="1.4"/>
<polyline points="17.5,334.0 20.0,334.3 22.5,332.0 25.0,333.5 27.5,334.2 30.0,334.3 32.5,335.2 35.0,335.7 37.5,336.1 40.0,335.1 42.5,337.8 45.0,340.1 47.5,344.2 50.0,345.8 53.0,338.8 56.0,332.8 58.7,332.0 61.3,329.6 64.0,326.5 66.7,325.5 69.3,322.8 72.0,321.5 74.7,319.8 77.3,317.7 80.0,319.1 82.5,318.2 85.0,314.7 87.5,314.2 90.0,313.8 92.5,312.0 95.0,311.1 97.5,313.9 100.0,311.7 102.5,311.9 105.0,308.6 107.5,310.7 110.0,306.5 112.5,308.1 115.0,309.9 117.5,311.3 120.0,309.2 122.5,308.7 125.0,308.7 127.5,305.3 130.0,307.6 132.5,308.6 135.0,309.0 137.5,311.4 140.0,312.7 142.5,313.5 145.0,314.7 147.5,317.0 150.0,315.6 152.5,318.8 155.0,319.9 157.5,324.0 160.0,324.6 163.0,334.3 166.0,342.1 169.0,345.5 172.0,350.9 175.0,351.9 179.0,369.2 181.7,366.7 184.3,364.5 187.0,359.9 189.7,358.8 192.3,355.8 195.0,351.5 197.7,353.5 200.3,353.9 203.0,355.0 205.3,353.6 207.7,348.3 210.0,344.5 212.7,347.0 215.3,351.8 218.0,355.4 220.7,358.9 223.3,362.7 226.0,366.5 230.0,385.3 232.5,406.9 235.0,426.9 238.0,440.8 241.0,453.7 243.5,433.1 246.0,408.3 249.0,407.2 252.0,403.9 255.0,398.2 257.5,394.7 260.0,394.7 263.1,394.9 266.2,394.3 269.4,392.2 272.5,391.7 275.0,387.3 277.5,378.8 280.0,379.5 282.5,375.3 285.0,372.8 287.5,369.0 290.0,367.8 292.5,367.6 295.0,363.7 297.5,366.0 300.0,360.3 302.5,358.9 305.0,364.9 307.5,370.4 310.0,370.1 312.5,368.0 315.0,367.3 317.5,358.4 320.0,349.5 322.5,346.2 325.0,349.7 327.5,348.9 330.0,348.1 333.0,348.1 336.0,349.8 339.0,350.4 342.0,351.1 345.0,353.0 348.0,348.4 351.0,349.2 354.0,346.5 357.0,345.8 360.0,346.3 363.1,342.9 366.2,343.4 369.4,342.3 372.5,343.6 375.6,340.8 378.8,339.0 381.9,340.9 385.0,339.7 388.0,340.8 391.0,343.7 394.0,342.7 397.0,344.2 400.0,346.1 402.8,347.2 405.6,347.0 408.4,349.6 411.2,352.2 414.0,349.6 416.8,350.8 419.5,343.8 422.2,345.4 425.0,341.7 428.0,341.0 431.0,338.8 434.0,337.0 437.0,334.7 440.0,334.7 443.0,335.0 446.0,333.8 449.0,330.6 452.0,328.7 455.0,327.4 458.0,325.8 461.0,328.8 464.0,327.3 467.0,325.9 470.0,324.6 473.0,322.4 476.0,323.7 479.0,322.0 482.0,318.4 485.0,318.9 488.0,315.5 491.0,316.6 494.0,313.9 497.0,313.6 499.3,318.1 501.7,321.9 504.0,325.9 507.0,326.5 510.0,331.4 512.5,329.0 515.0,325.2 517.5,323.1 520.0,319.3 523.0,318.3 526.0,315.1 529.0,315.1 532.0,313.8 535.0,313.2 538.0,311.8 541.0,310.4 544.0,307.5 547.0,306.1 550.0,304.7 552.5,304.0 555.0,300.1 557.5,301.9 560.0,298.6 562.5,298.9 565.0,298.9 567.5,297.9 570.0,299.4 572.5,297.0 575.0,298.4 577.5,297.5 580.0,294.6 583.0,293.3 586.0,291.7 589.0,287.3 592.0,285.1 595.0,282.0 598.1,281.3 601.2,279.6 604.4,278.8 607.5,278.4 610.6,276.7 613.8,272.9 616.9,270.3 620.0,268.2 622.5,266.7 625.0,265.1 627.5,267.0 630.0,265.6 632.5,269.0 635.0,267.9 637.5,271.6 640.0,266.0 642.5,265.8 645.0,263.8 647.5,260.2 650.0,261.7 652.5,258.0 655.0,256.0 657.5,255.8 660.0,253.5 662.5,249.8 665.0,249.5 667.5,254.5 670.0,257.2 672.5,258.1 675.0,259.4 677.5,259.5 680.0,258.6 682.5,259.8 685.0,257.3 687.5,256.9 690.0,257.1 692.5,259.3 695.0,258.0 697.5,255.7 700.0,251.5 702.5,249.1 705.0,245.1 707.5,246.8 710.0,246.8 712.5,245.5 715.0,249.3 717.5,249.8 720.0,253.8 722.5,253.1 725.0,255.2 727.5,256.8 730.0,257.1 732.5,259.3 735.0,261.0 737.5,261.4 740.0,260.1 742.5,258.7 745.0,263.3 747.5,263.8 750.0,270.0 753.0,276.0 756.0,282.3 759.0,281.8 762.0,281.5 765.0,277.1 767.5,272.5 770.0,268.3 772.5,265.1 775.0,265.3 777.5,263.3 780.0,264.9 782.5,263.2 785.0,266.2 787.5,266.4 790.0,263.4 792.5,262.1 795.0,255.8 797.5,257.5 800.0,259.3 802.5,260.7 805.0,257.1 807.5,257.4 810.0,255.4 812.5,259.5 815.0,263.2 817.5,264.0 820.8,269.1 824.0,274.0" stroke="#4D3B62" stroke-width="1.4"/>
<polyline points="17.5,334.0 20.6,331.2 23.8,324.3 26.9,325.4 30.0,322.5 32.7,320.3 35.3,317.5 38.0,315.4 40.7,316.4 43.3,318.8 46.0,317.9 49.0,315.4 52.0,306.8 54.7,309.0 57.3,310.0 60.0,310.0 63.0,304.0 66.0,301.4 69.0,301.3 72.0,296.9 74.7,297.6 77.3,297.8 80.0,299.5 82.7,298.2 85.3,296.2 88.0,291.2 90.7,294.6 93.3,291.9 96.0,291.5 99.0,292.7 102.0,289.5 105.0,286.9 107.5,286.5 110.0,285.5 112.5,284.3 115.0,284.7 117.5,286.6 120.0,287.1 122.5,285.6 125.0,290.4 127.5,287.5 130.0,289.9 132.5,291.0 135.0,292.7 137.5,291.1 140.0,291.5 142.5,293.2 145.0,290.1 147.5,289.8 150.0,291.8 152.5,291.3 155.0,292.7 157.3,295.4 159.7,298.1 162.0,299.8 164.7,302.8 167.3,303.3 170.0,303.9 172.7,309.4 175.3,311.4 178.0,316.0 180.3,312.5 182.7,312.3 185.0,310.3 187.5,305.5 190.0,305.1 192.5,304.5 195.0,306.2 197.5,303.1 200.0,307.2 202.5,308.7 205.0,308.4 207.3,307.4 209.7,304.2 212.0,303.0 214.7,304.9 217.3,306.9 220.0,308.6 223.0,309.8 226.0,311.4 230.0,334.5 233.0,348.0 236.0,358.6 238.5,367.5 241.0,377.6 243.5,370.6 246.0,364.8 249.0,359.0 252.0,359.7 255.0,354.2 258.0,350.7 260.7,348.1 263.3,350.6 266.0,352.4 269.0,351.5 272.0,351.0 274.5,343.9 277.0,334.1 280.0,333.7 283.0,330.1 286.0,327.3 289.0,327.2 292.0,322.2 295.0,319.3 297.3,317.1 299.7,314.2 302.0,313.9 304.8,309.8 307.5,307.2 310.2,304.4 312.9,300.9 315.6,300.6 318.3,296.6 321.0,294.6 323.8,294.2 326.6,294.0 329.4,295.0 332.2,292.5 335.0,292.8 337.5,294.9 340.0,296.4 342.5,295.7 345.0,296.3 347.5,296.8 350.0,296.3 352.5,297.4 355.0,297.7 357.5,297.7 360.0,299.4 362.5,298.2 365.0,298.8 367.5,298.8 370.0,296.9 372.5,297.2 375.0,296.9 377.5,296.0 380.0,296.1 382.5,294.6 385.0,294.6 388.0,292.5 391.0,294.4 394.0,293.3 397.0,294.5 400.0,291.5 402.8,294.7 405.6,297.6 408.4,296.1 411.2,299.9 414.0,302.6 416.8,300.0 419.7,295.6 422.5,295.2 425.6,293.4 428.8,290.8 431.9,291.2 435.0,289.0 438.0,288.1 441.0,286.5 444.0,286.6 447.0,285.2 450.0,285.0 452.5,283.8 455.0,281.8 457.5,281.4 460.0,281.8 462.5,280.2 465.0,280.9 467.5,281.0 470.0,279.8 473.0,276.4 476.0,278.1 479.0,277.8 482.0,277.0 485.0,275.3 488.1,276.3 491.2,273.6 494.4,271.5 497.5,270.4 500.0,272.7 502.5,272.3 505.0,274.1 507.5,279.3 510.0,280.1 512.5,279.9 515.0,279.5 517.5,277.8 520.0,274.5 523.0,277.3 526.0,277.0 529.0,275.7 532.0,272.1 535.0,275.1 538.0,274.6 541.0,272.0 544.0,271.7 547.0,271.8 550.0,269.9 553.1,270.9 556.2,269.1 559.4,269.0 562.5,267.6 565.0,265.3 567.5,265.0 570.0,268.8 572.5,267.4 575.0,270.2 577.5,271.4 580.0,272.5 582.5,271.1 585.0,268.6 587.5,268.3 590.0,265.8 592.5,266.0 595.0,266.1 597.5,261.2 600.0,262.7 602.5,261.5 605.0,261.0 607.5,256.7 610.0,255.4 612.5,253.0 615.0,253.3 617.5,254.9 620.0,255.8 622.5,251.6 625.0,253.5 627.5,251.4 630.0,251.0 632.5,254.5 635.0,249.3 637.5,252.4 640.0,251.2 642.5,252.8 645.0,250.6 648.0,250.9 651.0,247.0 654.0,245.9 656.8,244.8 659.7,241.9 662.5,239.3 665.0,240.6 667.5,241.8 670.0,242.9 672.5,246.4 675.0,243.8 677.5,241.3 680.0,244.2 682.5,244.2 685.0,245.5 687.5,247.6 690.0,245.2 692.5,244.3 695.0,243.3 697.5,242.6 700.0,240.8 702.5,240.2 706.0,233.7 709.2,230.9 712.5,229.3 715.0,232.0 717.5,229.8 720.5,225.2 724.0,233.1 727.5,236.7 730.0,238.6 732.5,240.6 735.0,240.9 737.5,239.5 740.0,234.6 742.5,237.3 745.0,238.1 747.5,241.8 750.0,243.6 752.5,243.9 755.0,246.5 757.5,250.9 760.0,251.4 762.5,250.0 765.0,251.9 767.5,253.1 770.0,251.3 772.5,250.7 775.0,250.0 777.5,248.5 780.0,245.7 782.5,246.6 785.0,245.2 787.5,245.1 790.0,243.8 792.5,242.8 795.0,241.3 797.5,241.3 800.0,240.1 802.5,238.0 805.0,242.9 807.5,241.5 810.8,241.0 814.0,241.5 816.5,242.3 819.0,251.2 821.5,250.6 824.0,254.0" stroke="#276A7C" stroke-width="1.4"/>
<polyline points="17.5,334.0 20.0,335.2 22.5,334.2 25.0,335.3 27.5,335.8 30.0,336.5 32.5,334.9 35.0,336.7 37.5,338.6 40.0,341.7 42.5,340.6 45.0,342.5 49.0,349.1 53.0,341.4 56.0,337.9 58.7,333.4 61.3,333.7 64.0,331.8 66.7,330.3 69.3,328.2 72.0,327.3 74.7,327.2 77.3,327.7 80.0,332.2 82.5,330.9 85.0,328.3 87.5,328.0 90.0,325.1 92.5,323.1 95.0,324.2 97.5,327.3 100.0,329.3 102.5,327.4 105.0,325.7 107.5,326.0 110.0,325.1 112.5,325.2 115.0,327.4 117.5,328.4 120.0,329.3 122.5,328.3 125.0,327.6 127.5,328.6 130.0,329.2 132.5,329.0 135.0,333.3 137.5,330.1 140.0,333.2 142.5,332.5 145.0,335.0 147.5,336.8 150.0,338.5 152.5,344.9 155.0,348.5 157.5,352.9 160.0,359.8 163.0,370.1 166.0,379.4 169.0,381.5 172.0,383.0 175.0,379.8 179.0,394.3 181.8,392.6 184.7,385.8 187.5,385.2 190.0,383.4 192.5,381.1 195.0,383.4 197.5,381.2 200.6,380.4 203.8,381.0 206.9,381.1 210.0,380.7 212.5,382.1 215.0,383.1 217.5,382.4 220.0,384.6 222.5,383.7 225.0,380.1 227.5,392.7 230.0,397.2 232.5,404.1 235.0,410.1 237.5,420.2 240.0,425.2 242.5,430.5 246.0,407.1 249.0,404.7 252.0,403.0 255.0,402.4 257.5,403.2 260.0,406.5 262.5,407.4 265.6,407.1 268.8,406.8 271.9,407.3 275.0,405.5 277.5,400.5 280.0,394.9 282.5,394.1 285.0,394.4 287.5,395.6 290.6,392.1 293.8,388.3 296.9,383.9 300.0,381.2 302.5,380.8 305.0,380.1 307.5,377.5 310.0,373.8 312.5,371.1 315.0,367.8 317.5,362.6 320.0,360.3 322.5,359.6 325.0,358.9 327.5,358.3 330.0,360.7 332.5,361.2 335.0,360.9 337.5,361.6 340.0,364.8 342.5,364.2 345.0,362.9 347.5,364.8 350.0,362.2 352.5,359.8 355.0,360.4 357.5,357.3 360.0,356.3 363.1,355.7 366.2,353.8 369.4,352.8 372.5,353.8 375.4,354.8 378.2,351.5 381.1,353.3 384.0,351.2 387.5,366.5 390.0,371.8 392.5,375.5 395.6,374.2 398.8,372.6 401.9,375.8 405.0,375.0 407.5,376.6 410.0,373.7 412.5,375.5 415.0,375.3 417.5,373.7 420.0,374.7 422.5,375.2 425.6,374.0 428.8,372.9 431.9,374.3 435.0,372.5 437.5,373.9 440.0,373.2 442.5,374.0 445.0,371.8 449.0,375.3 451.8,374.8 454.7,373.5 457.5,371.3 460.0,375.5 462.5,375.8 465.0,375.7 467.5,371.7 470.0,371.3 472.5,370.2 475.0,368.1 477.5,369.9 480.0,370.7 482.5,369.6 485.0,370.5 487.5,370.1 490.0,370.5 493.0,369.0 496.0,368.4 499.0,361.1 501.5,367.2 504.0,373.2 506.8,371.6 509.5,372.1 512.2,371.8 515.0,369.1 517.5,368.2 520.0,368.5 522.5,369.1 525.0,367.7 527.5,367.6 530.0,362.7 532.5,362.9 535.6,361.5 538.8,362.5 541.9,362.9 545.0,361.7 547.5,361.9 550.0,360.2 552.5,361.5 555.0,360.3 557.5,359.2 560.0,358.9 562.5,356.9 565.0,360.6 567.5,360.3 570.0,363.2 573.0,367.0 576.0,370.1 579.2,367.8 582.5,364.3 585.6,363.3 588.8,362.1 591.9,363.5 595.0,359.6 597.5,361.7 600.0,359.7 602.5,356.6 605.0,355.5 607.5,359.9 610.0,359.3 612.5,360.7 615.0,359.9 617.5,358.0 620.0,355.8 622.5,355.3 625.0,355.3 627.5,354.2 630.0,353.5 632.5,352.2 635.0,352.9 637.5,349.7 640.0,349.3 643.1,345.2 646.2,343.4 649.4,340.4 652.5,339.8 655.0,338.1 657.5,335.5 660.0,332.1 664.0,339.5 666.8,335.6 669.7,333.4 672.5,330.2 675.0,331.6 677.5,328.7 680.0,331.4 682.5,330.9 685.0,328.1 687.5,328.0 690.0,326.7 692.5,327.3 695.0,330.3 697.5,327.6 700.0,326.7 702.5,326.4 705.0,326.1 707.5,327.8 710.0,326.8 712.2,327.6 714.5,327.7 716.7,328.8 719.2,330.9 721.7,330.6 724.2,336.0 726.7,339.6 729.9,339.5 733.0,334.3 735.5,332.8 738.0,329.1 740.5,332.1 743.0,338.9 745.3,339.7 747.7,343.0 750.0,343.8 752.5,346.5 755.0,347.9 757.2,344.7 759.5,343.3 761.7,341.3 764.9,340.1 768.0,337.6 770.5,339.4 773.0,331.6 775.5,334.8 778.0,332.1 780.9,333.3 783.8,335.3 786.7,335.0 789.9,333.2 793.0,334.4 795.3,334.7 797.7,333.7 800.0,337.7 802.2,336.6 804.5,338.0 806.7,340.4 809.9,341.7 813.0,342.7 816.0,347.3 819.0,346.4 821.4,344.6 823.7,344.0" stroke="#729ACA" stroke-width="1.4"/>
<polyline points="17.5,334.0 20.7,332.6 23.9,330.8 27.1,328.7 30.3,329.8 33.5,330.4 36.7,333.9 39.9,332.6 43.1,333.4 46.3,334.7 49.5,336.6 52.7,330.8 55.9,329.0 59.1,326.2 62.3,324.6 65.5,320.4 68.7,318.3 71.9,316.2 75.1,317.8 78.3,315.5 81.5,314.5 84.7,311.2 87.9,309.1 91.1,311.8 94.3,311.7 97.5,309.9 100.7,307.4 103.9,306.6 107.1,305.9 110.3,303.4 113.5,303.4 116.7,302.4 119.9,303.4 123.1,304.4 126.3,303.8 129.5,299.8 132.7,302.3 135.9,302.0 139.1,300.3 142.3,300.2 145.5,299.2 148.7,298.1 151.9,296.3 155.1,293.9 158.3,293.4 161.5,303.5 164.7,309.6 167.9,312.9 171.1,316.3 174.3,316.7 177.5,323.0 180.7,330.0 183.9,329.1 187.1,326.5 190.3,324.0 193.5,321.7 196.7,323.1 199.9,319.1 203.1,321.4 206.3,324.1 209.5,322.6 212.7,321.8 215.9,324.6 219.1,324.5 222.3,326.5 225.5,330.3 228.7,334.7 231.9,359.4 235.1,376.0 238.3,388.2 241.5,395.3 244.7,389.1 247.9,385.8 251.1,383.1 254.3,376.8 257.5,368.8 260.7,369.8 263.9,369.5 267.1,370.7 270.3,372.2 273.5,369.5 276.7,360.8 279.9,359.1 283.1,357.3 286.3,356.0 289.5,353.2 292.7,351.3 295.9,350.9 299.1,348.4 302.3,348.1 305.5,345.8 308.7,345.9 311.9,344.2 315.1,343.3 318.3,338.3 321.5,330.8 324.7,332.0 327.9,332.5 331.1,333.9 334.3,331.0 337.5,329.5 340.7,332.2 343.9,335.4 347.1,335.8 350.3,335.7 353.5,333.6 356.7,336.9 359.9,336.4 363.1,335.0 366.3,334.2 369.5,335.6 372.7,336.0 375.9,332.8 379.1,333.8 382.3,331.6 385.5,333.0 388.7,336.6 391.9,339.0 395.1,339.0 398.3,343.7 401.5,347.4 404.7,352.7 407.9,355.1 411.1,357.2 414.3,356.8 417.5,358.0 420.8,361.0 424.0,364.1 427.2,358.2 430.4,358.9 433.6,355.3 436.8,355.5 440.0,352.2 443.2,351.7 446.4,351.0 449.6,351.6 452.8,348.4 456.0,343.9 459.2,347.1 462.4,350.6 465.6,347.5 468.8,347.7 472.0,348.7 475.2,352.0 478.4,351.1 481.6,350.4 484.8,347.3 488.0,340.1 491.2,340.3 494.4,338.7 497.6,339.3 500.8,343.3 504.0,351.5 507.2,355.4 510.4,358.2 513.6,354.3 516.8,359.9 520.0,358.4 523.2,354.2 526.4,354.5 529.6,349.7 532.8,347.6 536.0,347.4 539.2,345.4 542.4,344.2 545.6,343.9 548.8,343.0 552.0,340.3 555.2,335.9 558.4,336.1 561.6,335.9 564.8,340.2 568.0,339.5 571.2,339.9 574.4,340.3 577.6,336.4 580.8,331.3 584.0,332.7 587.2,335.3 590.4,335.6 593.6,339.5 596.8,338.0 600.0,338.5 603.2,342.8 606.4,345.7 609.6,343.5 612.8,339.1 616.0,339.8 619.2,340.0 622.4,343.7 625.6,345.2 628.8,347.5 632.0,346.5 635.2,345.8 638.4,344.0 641.6,338.3 644.8,332.3 648.0,331.0 651.2,330.6 654.4,324.4 657.6,321.2 660.8,318.4 664.0,323.2 667.2,326.8 670.4,327.4 673.6,328.3 676.8,323.8 680.0,320.3 683.2,317.7 686.4,315.5 689.6,310.5 692.8,318.8 696.0,317.8 699.2,312.5 702.4,315.9 705.6,320.8 708.8,325.5 712.0,326.4 715.2,325.8 718.4,325.9 721.6,324.7 724.8,322.0 728.0,335.4 731.2,335.0 734.4,333.2 737.6,325.3 740.8,316.7 744.0,318.5 747.2,324.4 750.4,325.5 753.6,332.7 756.8,331.0 760.0,332.4 763.2,328.6 766.4,326.6 769.6,323.0 772.8,317.1 776.0,312.2 779.2,313.7 782.4,312.9 785.6,314.6 788.8,330.0 792.0,330.2 795.2,329.0 798.4,332.5 801.6,334.5 804.8,331.3 808.0,331.5 811.2,331.3 814.4,331.3 817.6,333.0 820.8,335.7 824.0,330.0" stroke="#CD7371" stroke-width="1.4"/>
<polyline points="17.5,334.0 20.0,333.2 22.5,334.9 25.0,334.9 27.5,334.8 30.0,335.8 32.5,335.3 35.0,338.9 37.5,337.6 40.0,338.0 42.5,339.4 45.0,339.3 47.5,342.2 50.0,346.7 53.0,343.2 56.0,335.8 58.7,334.9 61.3,330.3 64.0,328.3 66.7,330.4 69.3,326.5 72.0,323.7 74.7,324.5 77.3,325.1 80.0,322.5 82.5,321.8 85.0,321.7 87.5,319.1 90.0,319.7 92.5,319.8 95.0,319.2 97.5,317.8 100.0,318.0 102.5,316.6 105.0,316.7 107.5,316.9 110.0,315.7 112.5,318.0 115.0,320.9 117.5,318.1 120.0,319.3 122.5,319.5 125.0,319.0 127.5,317.3 130.0,316.6 132.5,319.5 135.0,320.5 137.5,321.5 140.0,321.3 142.5,323.9 145.0,325.1 147.5,324.9 150.0,326.6 152.5,331.2 155.0,329.1 157.5,334.0 160.0,335.0 163.0,342.4 166.0,351.8 169.0,355.1 172.0,357.5 175.0,359.0 179.0,373.7 181.7,371.7 184.3,369.6 187.0,366.3 189.7,362.1 192.3,362.9 195.0,357.3 197.7,358.8 200.3,358.7 203.0,359.5 205.3,357.3 207.7,354.3 210.0,352.5 212.7,353.8 215.3,356.6 218.0,363.7 220.7,364.3 223.3,368.2 226.0,371.0 228.5,383.3 231.0,395.0 233.5,405.7 236.0,418.6 238.5,431.0 241.0,440.6 243.5,419.6 246.0,396.1 248.9,394.3 251.8,394.5 254.6,393.9 257.5,395.1 260.5,392.5 263.5,394.8 266.5,391.5 269.5,390.2 272.5,390.8 275.0,384.0 277.5,376.7 280.0,376.1 282.5,375.1 285.0,368.9 287.5,372.6 290.0,374.1 292.5,370.7 295.0,371.7 297.5,370.3 300.0,368.4 302.5,369.4 305.0,367.6 307.5,370.9 310.0,371.9 313.0,367.7 316.0,365.0 318.5,361.2 321.0,354.7 323.8,357.0 326.6,354.8 329.4,350.9 332.2,353.4 335.0,353.1 337.5,353.2 340.0,352.5 342.5,357.0 345.0,354.9 348.0,355.0 351.0,351.2 354.0,350.5 357.0,348.8 360.0,351.0 363.0,350.1 366.0,347.7 369.0,345.2 372.0,345.7 375.0,345.3 377.5,341.8 380.0,340.7 382.5,340.9 385.0,340.6 387.5,338.7 390.0,337.9 392.5,334.9 395.0,335.9 397.5,341.9 400.0,344.2 402.5,346.6 405.0,348.0 407.5,350.8 410.0,351.3 412.5,354.7 415.0,353.8 417.5,355.0 420.0,355.6 423.0,356.0 426.0,354.9 429.0,351.7 432.0,352.3 435.0,354.6 438.0,353.2 441.0,353.4 444.0,353.1 447.0,351.5 450.0,351.4 453.0,351.3 456.0,353.7 459.0,353.3 462.0,355.2 465.0,353.4 468.0,355.2 471.0,352.8 474.0,349.8 477.0,352.6 480.0,350.3 482.8,351.0 485.7,348.9 488.5,347.2 491.3,346.8 494.2,344.4 497.0,343.9 499.7,349.5 502.3,355.8 505.0,361.3 507.5,362.2 510.0,362.8 512.5,365.1 515.0,364.1 518.0,361.3 521.0,360.7 524.0,357.9 527.0,357.0 530.0,355.0 533.0,354.6 536.0,355.4 539.0,353.7 542.0,356.1 545.0,355.7 548.0,354.0 551.0,353.9 554.0,354.5 557.0,352.4 560.0,352.9 563.0,353.4 566.0,355.2 569.0,352.3 572.0,353.4 575.0,354.5 577.5,354.6 580.0,352.1 582.5,351.3 585.0,347.7 588.0,347.6 591.0,349.4 594.0,346.5 597.0,348.6 600.0,344.4 602.9,344.3 605.7,341.5 608.6,343.4 611.4,342.6 614.3,344.1 617.1,341.3 620.0,339.8 622.9,337.6 625.7,338.2 628.6,339.0 631.4,338.3 634.3,338.2 637.1,337.1 640.0,335.0 643.0,334.6 646.0,332.6 649.0,329.1 652.0,331.3 655.0,328.3 658.0,323.9 661.0,322.3 664.0,324.2 667.0,327.3 670.0,329.3 673.0,323.1 676.0,325.8 679.0,326.4 682.0,322.3 685.0,320.3 688.0,321.8 691.0,321.7 694.0,321.3 697.0,319.1 700.0,319.6 703.0,320.4 706.0,321.8 709.0,324.2 712.0,322.4 715.0,321.5 718.0,322.3 721.0,329.4 724.0,331.7 727.0,334.9 729.8,331.5 732.5,331.3 735.2,326.1 738.0,326.1 740.3,329.8 742.7,334.4 745.0,339.2 748.0,340.4 751.0,343.1 754.0,346.6 757.0,346.6 759.8,345.3 762.5,343.1 765.2,341.7 768.0,337.3 770.5,337.2 773.0,334.7 775.5,330.2 778.0,328.7 781.0,327.9 784.0,329.9 787.0,330.2 790.0,330.6 792.5,331.8 795.0,331.0 797.5,333.5 800.0,333.7 803.0,334.6 806.0,335.2 809.0,333.7 812.0,336.3 815.0,334.9 818.0,335.2 821.0,336.8 824.0,338.0" stroke="#9983B5" stroke-width="1.4"/>
<polyline points="17.5,334.0 20.0,333.2 22.5,332.0 25.0,330.7 27.5,330.2 30.0,332.0 32.5,331.5 35.0,331.7 37.5,333.2 40.0,335.4 42.5,333.5 45.0,333.0 47.5,337.8 50.0,339.5 53.0,333.9 56.0,329.8 58.7,328.9 61.3,331.2 64.0,326.1 66.7,325.9 69.3,322.9 72.0,318.4 74.7,318.0 77.3,316.9 80.0,318.4 82.5,316.4 85.0,317.3 87.5,313.5 90.0,312.3 92.5,311.6 95.0,311.2 97.5,313.5 100.0,310.3 102.5,312.9 105.0,313.0 107.5,311.0 110.0,312.6 112.5,310.4 115.0,310.1 117.5,309.2 120.0,308.0 122.5,308.4 125.0,311.9 127.5,310.9 130.0,312.6 132.5,314.9 135.0,314.6 137.5,315.8 140.0,316.2 142.5,317.9 145.0,320.0 147.5,317.3 150.0,321.8 152.5,325.4 155.0,329.0 157.5,335.7 160.0,341.2 162.5,346.0 165.0,348.7 167.5,352.0 170.0,356.8 172.5,360.1 175.0,374.0 177.5,389.8 180.0,387.2 182.5,385.1 185.0,380.8 187.5,376.4 190.0,373.3 192.5,367.9 195.0,366.5 197.5,365.0 200.0,362.1 202.5,358.5 205.0,355.2 207.5,352.7 210.0,357.3 212.5,359.2 215.0,362.3 217.5,366.1 220.0,368.5 222.5,369.3 225.0,375.2 229.0,384.7 231.5,406.4 234.0,430.6 237.5,455.0 240.5,473.5 244.0,455.5 247.5,441.0 250.0,443.1 252.5,443.9 255.0,428.8 257.5,412.7 260.0,415.7 262.5,418.9 265.0,420.7 267.5,424.1 270.0,425.2 272.5,429.7 275.0,416.3 277.5,405.9 280.0,405.3 282.5,401.8 285.0,404.0 287.5,396.5 290.0,393.4 292.5,389.0 295.0,384.3 297.5,377.6 300.0,372.2 302.5,370.8 305.0,367.6 307.5,366.3 310.0,358.7 312.5,357.8 315.0,353.5 317.5,350.8 321.0,337.0 324.0,337.6 327.0,337.1 330.0,335.5 332.5,335.8 335.0,332.6 337.5,333.3 340.0,329.4 342.5,333.2 345.0,328.3 347.5,331.8 350.0,332.3 352.5,330.9 355.0,330.3 357.5,328.1 360.0,325.1 363.0,326.6 366.0,321.9 369.0,321.5 372.0,323.4 375.2,321.5 378.5,317.8 381.8,319.8 385.0,317.9 387.5,323.3 390.0,325.4 392.5,325.5 395.4,329.4 398.3,328.2 401.2,331.6 404.2,332.9 407.1,333.5 410.0,333.7 412.5,332.8 415.0,328.2 417.5,328.2 420.0,325.8 422.5,327.2 425.0,323.1 427.5,320.3 430.0,322.5 432.5,321.8 435.0,320.1 437.5,321.9 440.0,319.4 442.5,317.2 445.0,314.7 447.5,311.3 450.0,313.5 452.5,313.3 455.0,310.5 457.3,311.0 459.7,314.0 462.0,314.5 464.7,314.6 467.3,314.3 470.0,313.4 472.5,311.5 475.0,310.3 477.5,310.0 480.0,309.3 482.5,306.2 485.0,303.4 487.5,302.2 490.0,300.9 492.3,299.3 494.7,299.0 497.0,298.3 500.0,299.1 503.0,300.1 507.0,291.7 509.8,288.6 512.5,284.8 515.0,281.7 517.5,279.4 520.0,273.7 523.1,272.4 526.2,273.0 529.4,269.7 532.5,267.9 534.8,270.4 537.0,274.9 539.7,270.8 542.3,267.3 545.0,265.9 548.0,262.2 551.0,260.8 554.2,261.4 557.5,264.1 560.0,267.0 562.5,271.1 565.0,273.4 567.5,278.5 570.0,278.7 572.5,280.6 575.0,281.5 577.5,284.4 580.0,285.0 582.5,286.0 585.0,285.2 587.5,284.8 590.0,285.0 592.5,283.4 595.0,281.2 597.5,280.3 600.0,278.3 602.5,276.9 605.0,276.4 607.5,276.0 610.0,276.5 613.0,281.2 616.0,285.3 618.7,281.7 621.3,273.9 624.0,269.1 627.0,275.0 630.0,276.6 632.5,277.8 635.0,275.9 637.5,273.7 640.0,271.9 642.5,272.1 645.0,269.6 647.5,267.6 650.0,265.0 652.5,264.8 655.0,259.8 657.5,256.6 660.0,250.1 663.0,259.3 666.0,270.2 669.2,277.0 672.5,281.9 675.0,285.2 677.5,285.4 680.0,281.3 682.5,278.8 685.0,274.8 687.5,270.4 690.0,266.0 692.5,265.0 695.0,261.6 697.5,257.7 700.0,255.2 702.5,249.9 705.0,249.4 707.5,254.7 710.0,260.3 712.5,264.2 715.0,270.0 717.5,275.1 720.0,295.9 722.5,314.2 725.0,315.7 727.5,315.5 730.0,318.3 732.5,317.1 735.0,313.6 737.5,310.5 740.0,305.3 742.5,313.8 745.0,321.3 747.5,331.0 750.0,332.8 752.5,341.3 756.0,313.7 760.0,330.0 762.5,323.1 765.0,318.9 767.5,314.5 770.0,308.8 772.5,302.0 775.0,301.8 777.5,299.8 780.0,298.4 782.5,294.8 785.0,293.0 787.5,290.6 790.0,289.6 792.5,290.5 795.0,290.4 797.7,292.5 800.3,291.2 803.0,292.3 805.3,292.1 807.7,289.4 810.0,288.1 812.3,288.9 814.7,288.5 817.0,289.1 821.0,297.0 824.0,283.0" stroke="#F9AB6B" stroke-width="1.4"/>
<polyline points="17.5,334.0 20.0,332.6 22.5,330.6 25.0,327.9 27.5,328.6 30.0,329.5 32.5,326.2 35.0,326.2 37.5,328.0 40.0,328.5 42.5,328.6 45.0,325.5 47.5,329.6 50.0,330.3 53.0,327.3 56.0,321.7 58.7,320.7 61.3,320.5 64.0,317.3 66.7,314.6 69.3,312.4 72.0,310.2 74.7,308.7 77.3,308.8 80.0,308.5 82.7,308.0 85.3,301.6 88.0,300.9 90.7,300.7 93.3,304.2 96.0,306.2 99.0,303.0 102.0,301.5 105.0,301.0 107.5,296.4 110.0,298.3 112.5,294.4 115.0,298.1 117.5,297.5 120.0,298.7 122.5,300.6 125.0,300.5 127.5,303.2 130.0,302.7 132.5,303.8 135.0,306.3 137.5,303.2 140.0,304.6 142.5,302.4 145.0,304.1 147.5,304.9 150.0,304.8 152.5,306.6 155.0,307.4 157.3,310.3 159.7,311.0 162.0,313.0 164.7,315.5 167.3,313.3 170.0,315.5 172.5,316.1 175.0,316.3 177.5,317.8 180.0,316.6 182.5,313.8 185.0,311.7 187.5,307.8 190.0,308.1 192.5,307.8 195.0,306.5 197.5,306.1 200.0,308.1 202.5,307.6 205.0,309.5 207.5,306.7 210.0,309.4 212.5,306.6 215.0,307.1 217.5,311.5 220.0,312.3 222.5,310.1 225.0,304.7 227.5,317.9 230.0,325.6 233.0,340.6 236.0,355.1 238.5,363.3 241.0,372.7 243.5,368.5 246.0,359.6 249.0,357.0 252.0,356.5 255.0,351.7 258.0,343.7 260.7,345.0 263.3,344.9 266.0,347.5 269.0,346.9 272.0,345.3 274.5,337.6 277.0,332.6 280.0,327.2 283.0,328.4 286.0,325.9 289.0,327.2 292.0,325.0 295.0,321.5 297.3,320.6 299.7,319.0 302.0,317.4 304.8,315.3 307.5,313.4 310.2,306.9 312.9,304.5 315.6,303.2 318.3,298.9 321.0,293.3 324.0,294.8 327.0,296.1 330.0,297.6 333.0,296.3 336.0,291.1 339.2,294.3 342.5,297.7 345.0,297.7 347.5,296.8 350.0,298.8 352.5,295.6 355.0,297.7 357.5,299.9 360.0,300.8 362.5,300.8 365.6,298.1 368.8,301.9 371.9,301.2 375.0,299.6 377.5,300.0 380.0,298.8 382.5,298.7 385.0,298.7 387.5,303.4 390.0,306.5 392.5,309.3 395.0,312.7 397.5,314.7 400.0,316.3 402.5,316.9 405.0,320.5 408.0,323.4 411.0,325.0 414.0,327.1 416.7,324.2 419.3,322.0 422.0,323.1 424.5,320.1 427.0,320.2 429.5,318.8 432.0,318.0 435.2,316.6 438.5,315.3 441.8,312.6 445.0,315.7 447.5,313.4 450.0,310.5 452.5,311.0 455.0,311.0 457.5,310.3 460.0,307.6 462.5,310.7 465.0,311.4 467.5,309.2 470.0,309.9 472.5,309.4 475.0,306.9 477.5,308.7 480.0,304.1 482.5,304.0 485.0,303.7 487.8,305.2 490.5,303.9 493.2,303.1 496.0,302.3 498.7,306.1 501.3,309.1 504.0,312.6 507.0,316.3 510.0,317.7 512.7,315.6 515.3,313.5 518.0,313.4 521.0,310.7 524.0,309.0 527.0,309.8 530.0,307.4 533.0,306.3 536.0,304.5 539.0,302.9 542.0,303.9 545.2,301.6 548.5,302.6 551.8,299.9 555.0,300.1 557.5,300.4 560.0,300.2 562.5,300.3 565.0,300.3 567.5,298.6 570.0,299.0 573.0,300.0 576.0,303.0 579.0,301.4 582.0,300.4 585.0,301.4 588.0,300.5 591.0,300.7 594.0,297.3 597.0,297.0 600.0,295.2 602.9,293.9 605.7,292.3 608.6,292.5 611.4,291.2 614.3,292.0 617.1,288.6 620.0,291.0 623.0,291.0 626.0,291.6 629.0,293.2 632.0,292.7 635.0,290.5 638.0,290.8 641.0,289.8 644.0,287.0 647.0,284.8 650.0,285.4 652.5,283.7 655.0,281.0 657.5,279.4 660.0,277.6 662.5,279.0 665.0,281.3 667.5,284.6 670.0,283.6 672.5,286.0 675.0,289.5 677.5,289.5 680.0,290.1 682.5,291.2 685.0,288.9 687.5,288.3 690.0,288.5 692.5,287.1 695.0,288.5 697.5,288.8 700.0,286.6 703.0,287.0 706.0,288.9 709.0,290.1 712.0,290.2 714.7,289.4 717.3,292.3 720.0,292.8 722.5,296.4 725.0,296.4 727.5,297.8 730.0,301.3 732.5,299.0 735.0,295.8 737.5,293.0 740.0,290.2 742.3,291.3 744.7,293.8 747.0,297.7 749.7,296.2 752.3,297.7 755.0,300.1 757.5,300.2 760.0,299.7 762.5,296.7 765.0,296.9 767.5,294.8 770.0,291.9 772.5,291.6 775.0,289.6 778.0,290.5 781.0,289.5 784.0,287.3 787.0,287.6 790.0,286.7 792.5,286.9 795.0,287.8 797.5,290.5 800.0,289.6 803.0,287.0 806.0,286.7 809.0,287.8 812.0,287.9 815.0,284.8 818.0,285.4 821.0,285.5 824.0,286.0" stroke="#3A679C" stroke-width="1.4"/>
<polyline points="17.5,334.0 20.0,331.2 22.5,332.2 25.0,331.0 27.5,331.6 30.0,334.4 32.5,331.8 35.0,332.7 37.5,333.6 40.0,332.4 42.5,332.7 45.0,335.4 47.5,336.8 50.0,338.1 53.0,332.7 56.0,330.8 58.7,329.1 61.3,330.2 64.0,327.3 66.7,325.4 69.3,322.6 72.0,320.1 74.7,318.7 77.3,319.0 80.0,318.2 82.5,317.4 85.0,316.5 87.5,314.1 90.0,311.5 92.5,312.4 95.0,312.6 97.5,309.0 100.0,309.4 102.5,308.8 105.0,308.3 107.5,307.5 110.0,305.9 112.5,306.5 115.0,309.1 117.5,310.0 120.0,306.8 122.5,304.2 125.0,306.1 127.5,304.2 130.0,303.5 132.5,302.9 135.0,306.1 137.5,307.0 140.0,307.5 142.5,309.9 145.0,312.7 147.5,312.6 150.0,312.0 152.5,312.1 155.0,314.3 157.5,314.8 160.0,317.0 163.0,322.7 166.0,328.0 169.0,331.5 172.0,332.5 175.0,336.7 179.0,350.3 181.7,346.1 184.3,345.0 187.0,340.5 189.7,340.9 192.3,338.6 195.0,334.1 197.7,338.1 200.3,336.8 203.0,335.5 205.3,333.7 207.7,334.5 210.0,331.8 212.7,336.2 215.3,335.6 218.0,339.9 220.7,342.6 223.3,342.6 226.0,345.6 228.5,356.9 231.0,370.3 233.5,380.3 236.0,392.0 238.5,394.5 241.0,402.7 243.5,398.4 246.0,391.0 249.0,390.8 252.0,391.0 255.0,384.4 258.0,374.4 260.7,377.9 263.3,376.8 266.0,380.3 269.0,379.3 272.0,380.5 274.5,371.3 277.0,364.3 280.0,361.9 283.0,360.1 286.0,359.8 289.0,358.3 292.0,355.0 295.0,355.0 297.3,350.1 299.7,350.8 302.0,348.7 304.7,350.0 307.3,346.5 310.0,345.4 312.7,342.2 315.3,344.2 318.0,340.5 321.0,334.1 323.8,334.7 326.6,333.4 329.4,336.1 332.2,335.0 335.0,332.2 337.5,335.4 340.0,337.2 342.5,337.2 345.0,338.4 348.0,337.9 351.0,338.2 354.0,338.3 357.0,337.2 360.0,338.3 362.9,337.8 365.7,337.4 368.6,336.3 371.4,335.4 374.3,336.7 377.1,337.3 380.0,333.9 382.9,336.3 385.7,339.3 388.6,340.0 391.4,338.7 394.3,341.9 397.1,340.1 400.0,341.3 403.0,344.7 406.0,342.6 409.0,342.9 412.0,341.5 415.0,343.1 417.5,341.2 420.0,341.6 422.5,338.6 425.0,340.9 427.5,338.2 430.0,337.1 432.5,336.1 435.0,336.7 438.1,337.4 441.2,334.9 444.4,336.7 447.5,336.6 450.6,335.9 453.8,334.1 456.9,331.2 460.0,333.1 463.1,331.3 466.2,331.8 469.4,328.8 472.5,330.0 475.6,330.5 478.8,328.7 481.9,329.6 485.0,330.5 488.0,328.8 491.0,327.2 494.0,330.4 497.0,325.1 500.2,327.6 503.5,330.2 506.8,330.4 510.0,330.5 513.1,332.1 516.2,332.3 519.4,329.8 522.5,331.7 525.6,330.3 528.8,330.4 531.9,326.4 535.0,327.5 538.1,329.0 541.2,329.7 544.4,328.7 547.5,326.6 550.6,326.2 553.8,324.9 556.9,326.6 560.0,324.4 562.5,325.1 565.0,321.9 567.5,322.0 570.0,325.6 573.1,322.7 576.2,322.2 579.4,318.3 582.5,320.0 585.6,321.6 588.8,317.2 591.9,314.9 595.0,317.4 598.1,316.3 601.2,317.1 604.4,315.8 607.5,315.5 610.6,315.6 613.8,318.0 616.9,317.5 620.0,318.2 623.0,315.6 626.0,317.0 629.0,315.5 632.0,315.5 635.0,315.8 637.5,313.5 640.0,311.6 642.5,308.3 645.0,309.1 647.5,307.7 650.0,304.3 652.5,302.8 655.0,299.4 658.0,296.3 661.0,295.4 664.2,300.1 667.5,302.2 670.0,300.1 672.5,300.7 675.0,299.6 677.5,299.9 680.0,302.1 682.5,299.3 685.0,297.0 687.5,296.0 690.0,292.2 692.5,294.4 695.0,295.2 697.5,295.0 700.0,292.0 702.5,293.8 705.0,293.3 707.5,291.4 710.0,292.0 712.5,296.7 715.0,298.0 717.5,296.1 720.0,295.6 722.5,298.7 725.0,302.2 727.5,303.4 730.0,303.4 732.5,304.3 735.0,299.2 737.5,293.8 740.0,287.8 742.5,291.3 745.0,297.0 747.5,298.2 750.0,300.7 752.5,297.8 755.0,303.4 757.5,300.1 760.0,304.6 762.5,305.4 765.0,303.8 767.5,300.7 770.0,298.7 772.5,297.5 775.0,296.1 777.5,293.3 780.0,289.8 782.5,290.5 785.0,291.5 787.5,290.1 790.0,292.1 792.5,291.7 795.0,291.7 797.5,294.3 800.0,295.6 802.5,293.8 805.0,294.0 807.5,294.8 810.0,291.5 812.5,291.2 815.0,293.0 818.0,292.3 821.0,290.2 824.0,290.0" stroke="#9F3B38" stroke-width="1.4"/>
<polyline points="17.5,334.0 20.0,331.7 22.5,331.6 25.0,328.7 27.5,329.9 30.0,330.6 32.5,328.3 35.0,332.5 37.5,332.7 40.0,333.9 42.5,331.1 45.0,331.9 47.5,333.7 50.0,335.8 53.0,335.4 56.0,328.1 58.7,327.3 61.3,325.9 64.0,324.4 66.7,323.9 69.3,318.9 72.0,318.8 74.7,317.4 77.3,315.2 80.0,316.1 82.5,312.5 85.0,314.8 87.5,310.8 90.0,310.9 92.5,310.6 95.0,307.4 97.5,305.8 100.0,306.1 102.5,303.7 105.0,305.4 107.5,304.1 110.0,302.3 112.5,302.7 115.0,304.8 117.5,302.8 120.0,306.5 122.5,302.5 125.0,302.1 127.5,300.0 130.0,301.5 132.5,302.4 135.0,304.8 137.5,305.6 140.0,306.1 142.5,309.4 145.0,309.2 147.5,309.7 150.0,310.5 152.5,313.1 155.0,314.5 157.5,315.9 160.0,316.6 163.0,329.1 166.0,333.8 169.0,335.9 172.0,340.4 175.0,346.7 179.0,361.1 181.7,356.4 184.3,354.9 187.0,352.0 189.7,347.1 192.3,346.5 195.0,345.3 197.7,347.4 200.3,345.7 203.0,346.0 205.3,343.1 207.7,342.8 210.0,340.1 212.7,343.5 215.3,346.9 218.0,349.7 220.7,349.9 223.3,353.7 226.0,355.3 228.5,370.8 231.0,386.1 233.5,396.0 236.0,407.9 238.5,416.5 241.0,429.9 243.5,419.9 246.0,415.4 249.0,413.2 252.0,412.7 255.0,409.1 258.0,397.5 260.7,399.1 263.3,398.6 266.0,400.2 269.0,401.6 272.0,401.1 274.5,395.3 277.0,386.0 280.0,383.5 283.0,380.3 286.0,377.8 289.0,373.2 292.0,373.2 295.0,369.1 297.7,366.8 300.3,365.9 303.0,361.2 305.7,359.2 308.3,358.4 311.0,356.7 313.3,351.9 315.7,351.7 318.0,347.4 321.0,340.3 324.0,340.2 327.0,337.3 330.0,338.9 332.5,339.4 335.0,336.9 337.5,336.2 340.0,333.9 342.5,338.6 345.0,337.9 347.5,337.2 350.0,340.7 352.5,337.4 355.0,337.8 357.5,335.5 360.0,339.2 363.0,339.9 366.0,336.5 369.0,335.6 372.0,335.5 375.2,334.6 378.5,335.6 381.8,336.5 385.0,333.1 387.3,336.2 389.7,334.5 392.0,339.4 394.7,339.6 397.3,341.0 400.0,345.4 402.5,347.2 405.0,352.2 408.1,352.1 411.2,352.9 414.4,349.6 417.5,350.1 420.0,349.0 422.5,347.1 425.0,347.4 427.5,343.5 430.0,344.2 432.5,343.4 435.0,338.2 437.5,338.0 440.0,336.7 442.5,336.1 445.0,336.4 447.5,334.8 450.0,334.3 452.5,332.8 455.0,332.4 457.5,334.7 460.0,336.9 462.5,336.8 465.0,335.3 467.5,332.2 470.0,330.8 472.5,329.4 475.0,332.7 477.5,333.1 480.0,332.4 482.5,328.0 485.0,324.6 487.5,323.4 490.0,321.6 492.5,324.9 495.0,325.5 497.5,324.4 500.0,327.9 502.5,337.1 505.0,344.5 507.5,352.0 510.0,362.3 512.5,357.4 515.0,348.2 517.5,350.6 520.0,347.0 522.5,346.1 525.0,344.2 527.5,341.8 530.0,340.5 532.5,338.7 535.0,340.1 537.5,338.1 540.0,337.5 543.0,329.3 546.0,321.9 548.5,316.4 551.0,312.5 554.0,313.6 557.0,312.0 560.0,309.2 562.5,311.1 565.0,309.9 567.5,308.4 570.0,307.4 572.5,305.7 575.0,306.6 577.5,305.7 580.0,302.8 582.5,301.7 585.0,304.2 587.3,301.6 589.7,301.5 592.0,300.2 594.7,298.2 597.3,297.9 600.0,297.0 602.5,294.9 605.0,295.1 607.5,295.2 610.0,292.6 612.5,292.2 615.0,289.6 617.5,289.9 620.0,287.7 622.5,288.3 625.0,284.7 627.5,286.3 630.0,282.7 632.5,277.1 635.0,271.4 637.5,268.1 640.0,262.0 642.5,261.3 645.0,256.2 647.5,253.0 650.0,247.3 652.5,246.0 655.0,243.6 657.5,241.1 660.0,242.9 662.5,248.7 665.0,249.5 667.5,247.3 670.0,243.5 672.5,236.6 675.0,241.5 677.5,246.2 680.0,250.4 682.5,243.6 685.0,240.2 687.5,246.6 690.0,254.9 692.5,247.4 695.0,244.5 697.5,243.4 700.0,243.2 702.5,244.0 705.0,241.9 707.5,247.4 710.0,244.5 712.5,246.8 715.0,246.1 717.5,245.1 720.0,242.3 722.5,246.1 725.0,251.0 727.5,256.6 730.0,252.1 732.5,248.8 735.0,244.5 738.0,239.0 741.0,235.2 744.2,246.0 747.5,252.1 750.0,256.1 752.5,265.4 755.0,267.9 757.5,273.2 760.0,270.5 762.5,263.4 765.0,259.2 767.5,253.7 770.0,244.3 772.5,244.7 775.0,237.6 777.5,243.6 780.0,242.5 782.5,244.1 785.0,245.4 787.5,242.2 790.0,238.5 792.5,239.4 795.0,240.7 797.7,237.0 800.3,235.9 803.0,234.1 805.3,239.1 807.7,238.8 810.0,240.0 813.0,243.4 816.0,247.9 820.0,252.3 824.0,249.0" stroke="#7E9D40" stroke-width="1.4"/>
<polyline points="17.5,334.0 20.6,334.1 23.8,331.9 26.9,330.8 30.0,329.9 33.0,327.2 36.0,330.2 39.0,326.9 42.0,326.8 45.0,328.6 47.3,325.8 49.7,325.0 52.0,323.5 54.7,325.2 57.3,325.5 60.0,323.8 63.0,326.2 66.0,321.7 69.0,321.4 72.0,322.1 75.0,319.8 78.0,321.6 81.0,322.7 84.0,326.5 87.0,323.4 90.0,329.1 92.9,328.8 95.7,327.8 98.6,328.3 101.4,326.3 104.3,328.6 107.1,331.3 110.0,326.2 112.9,329.3 115.7,327.0 118.6,326.2 121.4,325.7 124.3,325.9 127.1,324.5 130.0,324.8 132.9,327.8 135.7,326.0 138.6,326.3 141.4,325.9 144.3,326.0 147.1,323.3 150.0,324.1 153.0,325.3 156.0,326.0 159.0,323.1 162.0,323.3 165.0,323.0 168.0,323.9 171.0,323.0 174.0,321.7 177.0,320.0 180.0,320.3 182.5,318.9 185.0,317.0 187.5,317.3 190.0,315.4 192.5,318.0 195.0,318.5 197.5,317.5 200.0,319.5 203.1,318.6 206.2,317.3 209.4,316.5 212.5,316.0 215.6,316.5 218.8,319.0 221.9,321.0 225.0,319.4 227.5,321.3 230.0,322.2 232.5,323.2 235.0,324.3 237.5,326.5 240.0,326.7 242.5,326.0 245.0,327.9 247.5,323.1 250.0,324.8 253.1,323.8 256.2,324.2 259.4,322.5 262.5,323.0 265.6,323.1 268.8,319.7 271.9,318.9 275.0,319.2 277.5,318.0 280.0,316.1 282.9,317.0 285.7,314.4 288.6,316.4 291.4,317.1 294.3,317.0 297.1,316.0 300.0,314.8 302.9,315.1 305.7,313.9 308.6,311.2 311.4,311.6 314.3,311.9 317.1,310.9 320.0,310.2 322.9,309.8 325.8,308.8 328.8,308.5 331.7,307.6 334.6,307.0 337.5,306.9 340.6,306.0 343.8,306.1 346.9,303.7 350.0,302.3 352.5,304.9 355.0,307.0 357.5,306.5 360.0,306.9 363.1,305.5 366.2,307.8 369.4,306.0 372.5,306.5 375.6,307.4 378.8,306.5 381.9,308.4 385.0,304.9 388.1,306.8 391.2,306.4 394.4,304.7 397.5,305.5 400.6,304.9 403.8,304.3 406.9,306.0 410.0,305.3 413.1,308.1 416.2,305.1 419.4,304.8 422.5,305.5 425.6,304.7 428.8,305.2 431.9,304.3 435.0,303.7 438.1,301.4 441.2,302.2 444.4,305.7 447.5,304.6 450.6,303.8 453.8,302.6 456.9,302.5 460.0,302.8 462.9,299.9 465.7,299.8 468.6,299.0 471.4,301.1 474.3,297.8 477.1,299.6 480.0,297.1 482.9,301.0 485.7,297.5 488.6,297.0 491.4,298.4 494.3,297.8 497.1,297.6 500.0,295.0 502.5,298.4 505.0,299.9 507.5,298.5 510.0,298.6 513.1,297.2 516.2,299.4 519.4,298.4 522.5,297.6 525.6,295.5 528.8,298.6 531.9,297.8 535.0,296.0 538.1,298.3 541.2,295.3 544.4,297.4 547.5,295.4 550.6,298.3 553.8,296.6 556.9,298.4 560.0,296.6 562.5,297.9 565.0,298.8 567.5,296.4 570.0,297.6 573.1,296.3 576.2,298.4 579.4,296.9 582.5,296.9 585.6,297.1 588.8,299.0 591.9,296.4 595.0,297.5 598.1,296.7 601.2,296.3 604.4,295.8 607.5,296.4 610.6,296.8 613.8,294.4 616.9,296.2 620.0,294.9 623.1,295.8 626.2,298.5 629.4,294.4 632.5,294.8 635.6,294.4 638.8,295.7 641.9,293.8 645.0,292.4 648.1,291.8 651.2,293.9 654.4,294.3 657.5,295.4 660.6,293.5 663.8,294.8 666.9,292.7 670.0,295.2 673.1,293.5 676.2,292.7 679.4,293.5 682.5,295.5 685.6,292.3 688.8,291.1 691.9,291.1 695.0,291.5 698.1,292.5 701.2,293.5 704.4,293.3 707.5,294.0 710.6,295.6 713.8,294.2 716.9,293.0 720.0,292.9 723.1,295.2 726.2,294.4 729.4,294.9 732.5,296.0 735.6,296.3 738.8,293.8 741.9,294.3 745.0,296.1 748.1,295.5 751.2,297.2 754.4,295.2 757.5,292.8 760.6,296.5 763.8,293.3 766.9,293.6 770.0,295.4 773.1,293.1 776.2,297.4 779.4,294.8 782.5,294.6 785.6,293.0 788.8,295.9 791.9,293.9 795.0,291.9 798.0,293.8 801.0,289.6 804.0,289.9 807.0,290.7 810.0,290.1 812.8,288.3 815.6,290.9 818.4,290.7 821.2,287.1 824.0,287.5" stroke="#664F83" stroke-width="1.4"/>
<polyline points="17.5,334.0 20.0,331.5 22.5,327.2 25.0,324.6 27.5,323.7 30.0,320.3 32.5,317.4 35.0,315.1 38.0,314.3 41.0,318.0 44.0,316.8 46.3,316.9 48.7,312.2 51.0,309.6 53.7,311.6 56.3,309.9 59.0,308.4 61.5,308.9 64.0,310.5 66.3,307.7 68.7,301.8 71.0,295.6 74.2,296.2 77.5,298.4 80.0,296.5 82.5,294.9 85.0,291.9 87.5,292.5 90.0,288.1 92.3,288.0 94.7,288.9 97.0,288.4 99.7,283.6 102.3,281.2 105.0,274.7 107.5,278.0 110.0,278.5 112.5,276.8 115.0,275.3 117.5,277.0 120.0,274.0 122.5,277.3 125.0,276.4 127.5,277.7 130.0,279.4 132.5,277.7 135.0,280.8 137.5,281.7 140.0,275.2 142.5,277.8 145.0,277.3 147.5,276.4 150.0,275.2 152.5,277.6 155.0,277.2 157.5,274.9 160.0,277.2 162.5,277.5 165.0,278.6 167.5,278.2 170.0,278.9 172.5,282.6 175.0,278.5 177.5,284.5 180.0,285.8 182.5,284.6 185.0,282.5 187.5,281.1 190.6,281.2 193.8,280.9 196.9,279.4 200.0,280.7 202.5,279.8 205.0,281.8 207.5,282.5 210.0,283.0 212.5,284.2 215.0,283.0 217.5,281.5 220.0,285.2 222.5,286.4 225.0,292.3 229.0,310.5 232.5,341.8 236.0,354.5 238.5,360.6 241.0,364.1 245.0,346.7 247.5,342.5 250.0,337.9 252.5,334.9 255.0,329.8 257.5,330.3 260.0,328.8 262.5,325.2 265.0,326.5 267.5,325.8 270.0,329.0 274.0,312.0 276.3,311.0 278.7,308.8 281.0,304.8 283.8,301.6 286.6,299.4 289.4,295.1 292.2,291.2 295.0,289.1 297.5,287.7 300.0,285.3 302.5,284.1 306.0,284.4 309.2,284.2 312.5,280.0 315.3,281.4 318.2,279.8 321.0,277.6 325.0,275.3 327.5,272.7 330.0,271.3 332.5,269.5 335.0,269.4 337.5,267.9 340.0,266.6 342.5,270.1 345.0,270.8 348.0,268.7 351.0,267.3 354.0,265.6 357.0,263.9 360.0,262.6 363.0,264.9 366.0,269.1 369.0,272.0 372.0,267.2 375.0,261.3 377.5,263.3 380.0,264.5 382.5,265.3 385.0,264.5 387.5,266.8 390.0,269.4 392.5,272.6 395.0,276.9 397.5,280.1 400.0,282.4 403.1,286.5 406.2,285.6 409.4,288.1 412.5,290.4 415.0,288.9 417.5,286.6 420.0,288.7 422.5,286.3 425.0,283.7 427.5,283.7 430.0,283.7 432.5,286.2 435.6,281.6 438.8,281.6 441.9,279.9 445.0,280.3 447.5,276.2 450.0,274.6 452.5,270.0 455.0,277.8 457.5,279.2 460.0,278.4 462.5,282.1 465.0,282.2 467.5,283.0 470.0,285.7 472.5,285.9 475.0,288.6 477.5,288.5 480.0,288.1 482.5,285.1 485.0,282.8 487.5,282.4 490.0,281.3 492.5,280.8 495.0,281.4 497.5,285.1 500.0,287.1 502.5,295.5 505.0,299.0 507.5,293.2 510.0,292.0 512.5,287.3 515.0,284.2 517.5,284.7 520.0,289.0 522.5,284.7 525.0,284.0 527.5,281.7 530.0,282.7 532.5,281.2 535.0,277.0 537.5,276.5 540.0,276.3 542.5,273.8 545.0,272.4 547.5,270.0 550.0,270.2 552.5,269.7 555.0,273.5 557.5,276.1 560.0,275.2 562.5,279.1 565.0,279.3 567.5,279.4 570.0,281.3 572.5,282.1 575.0,285.1 577.5,287.0 580.0,288.3 583.0,286.8 586.0,284.9 589.0,285.7 592.0,287.6 595.0,285.3 598.0,285.7 601.0,283.4 604.0,285.6 607.0,287.6 610.0,286.7 612.5,288.1 615.0,284.5 617.5,282.6 620.0,282.0 623.0,282.7 626.0,284.7 629.0,283.5 632.0,282.1 635.0,284.9 637.5,284.1 640.0,284.5 642.5,280.1 645.0,281.3 648.1,280.1 651.2,279.4 654.4,277.2 657.5,276.7 660.6,273.6 663.8,273.5 666.9,270.4 670.0,268.4 672.5,271.6 675.0,271.2 677.5,272.5 680.0,273.1 682.5,267.5 685.0,266.1 687.5,264.7 690.0,265.2 692.5,266.8 695.0,266.8 697.5,270.3 700.0,268.5 702.5,270.0 705.0,271.0 707.5,272.2 710.0,276.3 712.5,278.1 715.0,276.5 717.5,276.9 720.0,275.5 722.5,275.7 725.0,277.4 727.5,279.2 730.0,281.8 732.5,278.3 735.0,277.9 737.5,277.0 740.0,276.1 742.5,278.2 745.0,281.5 747.5,281.4 750.0,284.8 752.5,281.5 755.0,282.9 757.5,284.6 760.6,283.1 763.8,283.4 766.9,284.0 770.0,284.1 772.5,280.2 775.0,278.5 777.5,277.4 780.0,276.9 782.5,275.2 785.0,275.3 787.5,274.4 790.0,274.1 792.5,275.6 795.0,276.8 797.5,279.7 800.0,281.2 802.5,278.9 805.0,275.9 807.5,273.5 810.0,272.3 812.5,273.7 815.0,276.4 818.0,277.0 821.0,276.8 824.0,277.0" stroke="#358EA6" stroke-width="1.4"/>
<polyline points="17.5,334.0 20.0,332.7 22.5,332.0 25.0,331.4 27.5,330.7 30.0,331.0 32.5,329.3 35.0,330.0 37.5,329.9 40.0,332.3 42.5,330.1 45.0,333.1 47.5,333.7 50.0,335.6 53.0,332.0 56.0,328.1 58.7,326.7 61.3,326.5 64.0,324.5 66.7,321.3 69.3,322.2 72.0,320.0 74.7,321.5 77.3,319.5 80.0,316.2 82.5,318.7 85.0,315.4 87.5,315.6 90.0,316.0 92.5,315.2 95.0,312.3 97.5,313.0 100.0,311.6 102.5,313.3 105.0,312.8 107.5,310.3 110.0,311.4 112.5,312.8 115.0,313.7 117.5,312.6 120.0,313.4 122.5,312.0 125.0,311.1 127.5,312.6 130.0,312.0 132.5,314.7 135.0,314.6 137.5,314.7 140.0,314.7 142.5,318.7 145.0,318.0 147.5,318.3 150.0,318.1 152.5,318.9 155.0,322.1 157.5,321.6 160.0,324.5 163.0,331.6 166.0,337.7 169.0,338.7 172.0,343.6 175.0,347.2 179.0,357.3 181.7,353.8 184.3,353.8 187.0,350.1 189.7,347.0 192.3,346.8 195.0,342.8 197.7,344.5 200.3,343.9 203.0,344.4 205.3,343.6 207.7,340.6 210.0,338.4 212.7,341.5 215.3,346.1 218.0,348.0 220.7,351.7 223.3,352.0 226.0,353.4 228.5,364.1 231.0,374.6 233.5,385.7 236.0,394.2 238.5,402.5 241.0,407.6 243.5,403.5 246.0,397.2 249.0,395.9 252.0,394.9 255.0,388.2 258.0,382.4 260.7,384.0 263.3,385.5 266.0,384.8 269.0,383.2 272.0,382.6 274.5,374.1 277.0,368.9 280.0,365.6 283.0,364.6 286.0,362.9 289.0,360.1 292.0,358.0 295.0,354.6 297.3,351.4 299.7,352.2 302.0,349.9 304.7,349.1 307.3,345.4 310.0,344.9 312.7,345.1 315.3,339.6 318.0,338.1 321.0,331.2 324.0,328.9 327.0,328.8 330.0,326.1 332.5,328.3 335.0,326.1 337.5,327.3 340.0,324.9 342.5,325.5 345.0,327.0 347.5,327.0 350.0,327.5 352.5,328.9 355.0,327.5 357.5,325.4 360.0,324.7 363.1,324.7 366.2,324.2 369.4,323.1 372.5,322.6 375.6,322.2 378.8,321.6 381.9,320.5 385.0,318.5 387.5,321.0 390.0,323.6 392.5,324.2 395.4,326.7 398.3,329.3 401.2,330.4 404.2,331.4 407.1,333.3 410.0,334.6 412.5,337.5 415.0,337.2 417.5,331.4 420.0,327.4 422.5,325.3 425.6,323.8 428.8,321.9 431.9,319.5 435.0,319.9 437.5,318.5 440.0,318.5 442.5,319.1 445.0,318.3 447.5,319.9 450.0,319.1 452.5,319.8 455.0,320.8 458.0,323.0 461.0,323.9 464.0,323.4 467.0,321.5 470.0,322.5 473.0,322.3 476.0,321.1 479.0,316.7 482.0,317.0 485.0,315.3 488.1,316.0 491.2,315.2 494.4,312.9 497.5,314.4 500.8,314.6 504.0,319.7 507.0,318.0 510.0,318.9 512.5,325.6 515.0,327.0 517.5,326.0 520.0,326.8 522.5,324.0 525.0,322.9 527.5,320.1 530.0,322.8 532.5,321.4 535.0,319.3 538.0,319.3 541.0,316.9 544.0,316.0 547.0,313.7 550.0,315.3 552.5,316.3 555.0,316.3 557.5,316.4 560.0,315.6 562.5,314.3 565.0,313.8 567.5,316.3 570.0,316.2 572.5,317.1 575.0,315.4 577.5,314.1 580.0,315.4 582.5,312.9 585.0,310.4 587.5,310.2 590.0,309.3 592.5,307.4 595.0,307.1 597.5,308.1 600.0,308.0 602.5,308.4 605.0,305.9 607.5,307.4 610.0,306.0 612.5,306.5 615.0,304.8 617.5,305.0 620.0,303.6 622.5,308.6 625.0,307.1 627.5,309.5 630.0,307.0 632.5,306.7 635.0,303.8 637.5,303.7 640.0,303.9 642.5,302.9 645.0,299.3 647.5,302.0 650.0,299.1 652.5,300.4 655.0,300.5 658.0,299.7 661.0,300.7 664.0,302.7 667.0,305.8 670.0,308.3 672.5,308.1 675.0,305.8 677.5,305.7 680.0,300.6 682.5,301.6 685.0,297.2 687.5,295.7 690.0,293.5 692.5,292.4 695.0,290.2 697.5,291.9 700.0,294.4 702.5,292.7 705.0,292.5 707.5,294.2 710.0,296.7 712.5,297.3 715.0,299.0 717.2,300.2 719.5,302.5 721.7,302.5 724.2,307.3 726.7,314.5 729.9,312.4 733.0,310.7 735.5,308.7 738.0,304.8 741.7,313.6 744.2,312.4 746.7,314.2 749.9,317.8 753.0,320.4 756.7,313.2 758.0,323.0 760.5,318.7 763.0,316.4 765.5,313.9 768.0,312.3 770.5,310.4 773.0,306.6 775.3,308.0 777.7,307.2 780.0,307.3 782.2,303.8 784.5,304.0 786.7,304.2 789.2,301.9 791.7,303.2 794.9,301.5 798.0,303.3 800.5,304.3 803.0,306.8 805.3,304.4 807.7,304.8 810.0,303.5 812.2,303.8 814.5,303.0 816.7,306.7 819.0,304.7 821.4,307.6 823.7,305.0" stroke="#F3740B" stroke-width="1.4"/>
<polyline points="17.5,334.0 20.7,333.6 23.9,333.5 27.1,335.3 30.3,335.7 33.5,335.6 36.7,338.3 39.9,339.2 43.1,339.7 46.3,341.6 49.5,345.0 52.7,337.4 55.9,334.8 59.1,332.5 62.3,329.2 65.5,328.1 68.7,329.3 71.9,323.7 75.1,323.8 78.3,326.6 81.5,325.4 84.7,324.0 87.9,323.5 91.1,322.2 94.3,323.7 97.5,323.8 100.7,324.7 103.9,323.0 107.1,320.3 110.3,322.8 113.5,321.3 116.7,324.9 119.9,325.4 123.1,323.3 126.3,323.8 129.5,323.8 132.7,323.3 135.9,325.7 139.1,326.5 142.3,327.8 145.5,329.6 148.7,332.8 151.9,337.1 155.1,343.4 158.3,350.3 161.5,359.1 164.7,369.6 167.9,373.8 171.1,372.2 174.3,374.6 177.5,381.1 180.7,382.4 183.9,381.6 187.1,376.3 190.3,375.5 193.5,374.0 196.7,372.0 199.9,372.3 203.1,371.1 206.3,370.6 209.5,369.5 212.7,371.2 215.9,371.9 219.1,374.2 222.3,374.3 225.5,374.0 228.7,382.9 231.9,390.7 235.1,402.2 238.3,410.8 241.5,418.8 244.7,402.5 247.9,395.0 251.1,393.2 254.3,392.9 257.5,392.6 260.7,395.5 263.9,399.0 267.1,397.5 270.3,394.5 273.5,395.8 276.7,393.5 279.9,385.6 283.1,386.8 286.3,386.6 289.5,383.4 292.7,381.2 295.9,379.7 299.1,376.8 302.3,372.9 305.5,372.3 308.7,368.5 311.9,365.7 315.1,360.9 318.3,355.3 321.5,354.3 324.7,353.7 327.9,351.7 331.1,353.8 334.3,355.1 337.5,356.4 340.7,357.2 343.9,356.9 347.1,355.0 350.3,357.2 353.5,354.4 356.7,352.4 359.9,350.0 363.1,349.8 366.3,349.0 369.5,347.8 372.7,346.9 375.9,347.5 379.1,347.5 382.3,346.0 385.5,354.0 388.7,362.5 391.9,368.3 395.1,369.1 398.3,371.0 401.5,371.7 404.7,370.0 407.9,371.1 411.1,370.3 414.3,369.6 417.5,370.1 420.8,368.9 424.0,370.8 427.2,369.7 430.4,370.0 433.6,369.1 436.8,366.0 440.0,367.9 443.2,366.3 446.4,364.9 449.6,369.6 452.8,369.5 456.0,369.2 459.2,367.1 462.4,370.2 465.6,370.4 468.8,366.2 472.0,364.4 475.2,364.8 478.4,364.6 481.6,364.8 484.8,364.5 488.0,364.4 491.2,365.8 494.4,362.2 497.6,357.1 500.8,360.0 504.0,368.0 507.2,365.1 510.4,366.2 513.6,367.0 516.8,364.3 520.0,362.6 523.2,364.1 526.4,360.8 529.6,358.8 532.8,356.2 536.0,356.6 539.2,354.8 542.4,355.1 545.6,354.8 548.8,356.3 552.0,354.8 555.2,355.3 558.4,350.9 561.6,350.6 564.8,353.3 568.0,353.4 571.2,355.4 574.4,360.8 577.6,361.9 580.8,359.2 584.0,358.0 587.2,356.7 590.4,355.5 593.6,353.3 596.8,351.2 600.0,350.3 603.2,348.8 606.4,351.8 609.6,354.2 612.8,352.2 616.0,349.9 619.2,349.8 622.4,348.8 625.6,348.0 628.8,346.4 632.0,346.5 635.2,344.3 638.4,344.0 641.6,342.0 644.8,339.7 648.0,336.8 651.2,336.3 654.4,333.0 657.6,330.3 660.8,328.9 664.0,334.1 667.2,330.7 670.4,326.1 673.6,323.7 676.8,325.7 680.0,328.2 683.2,325.9 686.4,322.6 689.6,322.5 692.8,325.4 696.0,323.7 699.2,320.1 702.4,320.2 705.6,322.1 708.8,323.7 712.0,324.5 715.2,324.3 718.4,326.2 721.6,326.7 724.8,331.7 728.0,334.8 731.2,334.0 734.4,331.1 737.6,324.4 740.8,328.8 744.0,334.5 747.2,338.5 750.4,338.0 753.6,341.1 756.8,342.2 760.0,339.3 763.2,335.8 766.4,334.4 769.6,332.3 772.8,327.1 776.0,328.1 779.2,328.7 782.4,329.9 785.6,331.0 788.8,329.9 792.0,328.1 795.2,331.5 798.4,332.6 801.6,332.7 804.8,335.4 808.0,336.6 811.2,337.1 814.4,336.7 817.6,339.9 820.8,339.6 824.0,339.0" stroke="#95B3D7" stroke-width="1.4"/>
<polyline points="17.5,334.0 20.7,331.9 23.9,331.1 27.1,330.2 30.3,332.1 33.5,334.0 36.7,332.0 39.9,334.7 43.1,334.4 46.3,337.0 49.5,337.1 52.7,333.5 55.9,328.7 59.1,328.2 62.3,324.5 65.5,322.8 68.7,320.2 71.9,319.8 75.1,318.9 78.3,318.2 81.5,318.6 84.7,314.9 87.9,313.7 91.1,312.4 94.3,314.3 97.5,312.1 100.7,311.0 103.9,308.7 107.1,307.6 110.3,307.5 113.5,305.6 116.7,305.2 119.9,307.7 123.1,304.9 126.3,304.4 129.5,305.2 132.7,303.8 135.9,304.5 139.1,304.9 142.3,304.6 145.5,303.0 148.7,300.7 151.9,299.9 155.1,299.8 158.3,297.2 161.5,306.3 164.7,313.8 167.9,317.5 171.1,321.5 174.3,321.0 177.5,326.9 180.7,333.6 183.9,333.1 187.1,330.6 190.3,329.2 193.5,324.0 196.7,327.0 199.9,325.4 203.1,326.3 206.3,327.6 209.5,327.8 212.7,327.8 215.9,331.2 219.1,331.7 222.3,332.2 225.5,335.9 228.7,337.9 231.9,363.7 235.1,381.0 238.3,393.6 241.5,401.1 244.7,395.1 247.9,390.5 251.1,387.1 254.3,384.1 257.5,375.2 260.7,374.9 263.9,377.3 267.1,377.3 270.3,377.2 273.5,374.5 276.7,366.9 279.9,363.2 283.1,363.4 286.3,361.2 289.5,358.4 292.7,356.4 295.9,354.5 299.1,353.9 302.3,352.4 305.5,351.6 308.7,350.4 311.9,347.6 315.1,346.4 318.3,341.9 321.5,335.5 324.7,334.5 327.9,335.7 331.1,335.4 334.3,334.2 337.5,333.2 340.7,337.1 343.9,338.0 347.1,337.4 350.3,337.9 353.5,338.4 356.7,338.1 359.9,337.7 363.1,339.4 366.3,338.7 369.5,338.0 372.7,339.0 375.9,335.8 379.1,335.8 382.3,334.2 385.5,334.7 388.7,338.6 391.9,339.4 395.1,343.3 398.3,343.1 401.5,349.3 404.7,353.1 407.9,355.5 411.1,358.4 414.3,358.7 417.5,359.9 420.8,363.2 424.0,365.1 427.2,361.8 430.4,358.8 433.6,357.8 436.8,356.9 440.0,354.9 443.2,355.0 446.4,355.2 449.6,351.6 452.8,351.5 456.0,345.4 459.2,350.0 462.4,352.0 465.6,349.6 468.8,349.8 472.0,351.5 475.2,353.0 478.4,355.4 481.6,353.2 484.8,347.1 488.0,341.5 491.2,343.1 494.4,342.0 497.6,341.6 500.8,347.1 504.0,354.1 507.2,358.9 510.4,361.9 513.6,358.2 516.8,362.6 520.0,361.6 523.2,358.8 526.4,355.6 529.6,352.0 532.8,351.5 536.0,351.3 539.2,350.3 542.4,349.4 545.6,347.6 548.8,345.1 552.0,342.2 555.2,341.0 558.4,337.6 561.6,340.4 564.8,343.1 568.0,341.8 571.2,342.2 574.4,342.4 577.6,339.2 580.8,334.2 584.0,337.7 587.2,336.6 590.4,340.0 593.6,340.7 596.8,340.8 600.0,342.0 603.2,342.9 606.4,348.7 609.6,347.9 612.8,342.7 616.0,343.1 619.2,343.9 622.4,345.7 625.6,346.2 628.8,348.3 632.0,348.9 635.2,347.5 638.4,346.0 641.6,340.1 644.8,335.4 648.0,332.1 651.2,330.6 654.4,327.7 657.6,325.7 660.8,321.6 664.0,323.3 667.2,326.8 670.4,331.5 673.6,330.1 676.8,324.9 680.0,321.3 683.2,320.4 686.4,318.9 689.6,314.0 692.8,319.5 696.0,317.6 699.2,317.8 702.4,316.6 705.6,324.2 708.8,327.0 712.0,327.6 715.2,328.3 718.4,327.6 721.6,326.8 724.8,324.2 728.0,335.9 731.2,336.4 734.4,337.2 737.6,323.9 740.8,319.3 744.0,323.1 747.2,326.9 750.4,329.0 753.6,333.8 756.8,334.0 760.0,335.4 763.2,331.4 766.4,328.7 769.6,324.3 772.8,319.3 776.0,314.6 779.2,312.6 782.4,313.7 785.6,316.5 788.8,332.6 792.0,332.2 795.2,333.1 798.4,333.7 801.6,333.6 804.8,335.6 808.0,332.2 811.2,335.4 814.4,334.0 817.6,334.2 820.8,333.9 824.0,332.0" stroke="#D99694" stroke-width="1.4"/>
<polyline points="17.5,334.0 19.8,327.6 22.0,322.4 24.7,323.4 27.3,323.6 30.0,323.5 32.5,323.3 35.0,322.8 37.5,322.7 40.0,322.0 42.5,323.7 45.0,324.1 47.5,326.0 50.0,328.4 52.5,322.1 55.0,318.3 57.5,317.7 60.0,315.6 62.5,312.8 65.0,312.4 67.5,309.3 70.0,309.0 72.5,307.3 75.0,306.4 78.0,305.2 81.0,303.2 84.0,302.6 87.0,300.3 89.7,296.5 92.3,292.7 95.0,290.7 97.5,283.9 100.0,265.1 103.0,260.3 106.0,255.9 108.7,256.0 111.3,257.8 114.0,259.0 117.5,254.3 120.4,252.4 123.2,250.5 126.1,249.5 129.0,249.0 131.5,252.0 134.0,255.2 137.0,254.8 140.0,255.2 143.0,256.3 146.0,258.0 148.5,261.7 151.0,266.0 154.2,265.3 157.5,264.4 161.0,272.2 163.5,266.5 166.0,260.9 169.2,266.2 172.5,274.4 175.0,277.4 177.5,280.0 180.0,279.0 182.5,274.4 185.0,271.6 187.5,267.5 190.0,262.8 193.0,253.6 196.0,246.4 199.2,248.1 202.5,249.7 205.0,247.1 207.5,244.4 210.0,241.3 214.0,251.1 216.8,255.4 219.7,260.7 222.5,264.8 225.0,269.5 227.5,274.2 230.0,294.6 233.0,330.1 237.0,349.4 241.0,361.7 245.0,344.6 247.5,345.0 250.0,345.2 252.5,343.5 255.0,342.3 258.0,338.0 260.8,336.7 263.6,335.9 266.4,334.3 269.2,333.3 272.0,332.3 273.0,322.8 277.0,310.3 279.5,305.9 282.0,302.9 285.0,298.9 288.0,296.8 290.3,296.1 292.7,294.0 295.0,292.4 297.5,288.6 300.0,288.8 302.5,289.9 305.0,290.2 308.0,281.8 311.0,272.0 313.5,267.0 316.0,260.8 318.5,254.9 321.0,249.1 325.0,249.9 327.5,247.0 330.0,247.8 332.5,248.3 335.0,249.2 337.5,251.0 340.8,258.1 344.0,263.8 346.8,258.1 349.7,252.3 352.5,247.0 355.6,247.8 358.8,248.0 361.9,248.4 365.0,248.7 367.5,244.8 370.0,239.3 372.5,235.7 375.0,230.8 377.5,230.2 380.0,228.1 382.5,227.4 385.0,226.1 387.5,231.0 390.0,237.0 392.5,241.1 395.0,239.0 397.5,238.0 400.0,235.8 403.0,239.1 406.0,242.6 409.0,246.1 411.3,245.3 413.7,241.8 416.0,240.9 419.0,250.3 422.5,236.0 425.3,236.1 428.2,236.9 431.0,235.6 433.5,231.9 436.0,227.7 439.0,227.2 442.0,226.4 445.0,227.2 447.5,221.7 450.0,216.1 452.5,215.3 455.0,212.9 457.5,213.4 460.0,216.3 462.5,217.8 466.0,225.5 470.0,217.5 473.0,218.1 476.0,219.2 479.0,220.5 482.5,200.2 485.3,200.7 488.2,199.9 491.0,198.8 493.5,197.8 496.0,198.0 500.0,204.6 504.0,224.9 506.8,220.6 509.7,216.1 512.5,212.3 516.0,215.0 519.2,213.8 522.5,210.0 526.0,212.3 529.2,207.8 532.5,202.8 535.0,200.8 537.5,199.7 540.0,197.7 542.5,197.7 546.0,195.2 549.0,196.4 551.0,183.6 554.2,184.4 557.5,182.8 561.0,184.9 565.0,183.9 569.0,187.4 571.5,187.0 574.0,187.7 576.0,197.3 580.0,199.8 582.5,198.7 585.0,197.1 587.5,195.2 590.0,193.9 594.0,195.9 597.5,189.4 600.0,189.2 602.5,187.9 605.0,187.8 607.5,187.9 610.0,190.9 614.0,179.5 616.0,184.1 619.2,184.4 622.5,183.4 625.0,180.0 627.5,175.1 630.0,176.7 632.5,177.6 635.0,177.7 637.5,176.9 640.0,177.3 642.5,172.3 645.0,167.2 647.5,164.1 650.0,161.8 652.5,159.1 655.0,156.1 657.5,154.3 660.0,154.3 664.0,179.0 667.0,176.4 670.0,170.6 674.0,173.9 677.5,172.3 680.0,180.7 682.5,176.8 685.0,171.5 688.0,168.8 691.0,167.9 693.5,161.7 696.0,157.6 699.2,155.7 702.5,154.2 706.0,159.8 708.5,164.5 711.0,167.5 714.2,168.4 717.5,168.9 721.0,180.7 724.2,187.2 727.5,192.6 730.8,190.3 734.0,188.0 737.5,180.7 740.0,180.9 743.0,188.1 746.0,195.2 749.2,204.9 752.5,215.3 755.0,219.0 757.5,222.0 760.3,218.8 763.2,214.6 766.0,212.4 768.5,202.1 771.0,192.7 775.0,181.0 777.5,181.6 780.0,183.2 782.5,183.7 785.0,183.6 789.0,178.8 791.5,180.5 794.0,182.5 796.5,182.8 799.0,184.0 801.5,182.2 804.0,180.2 806.0,180.0 809.0,178.9 812.0,177.1 815.0,175.8 816.0,183.8 819.0,184.2 821.0,174.8 824.0,175.0" stroke="#C3D69B" stroke-width="1.4"/>
<polyline points="17.5,334.0 20.0,331.7 22.5,329.0 25.0,326.3 27.5,324.0 30.0,324.2 32.5,323.7 35.0,324.0 37.5,322.8 40.0,322.5 42.5,320.6 45.0,318.4 47.5,320.4 50.0,321.9 52.5,319.9 55.0,315.8 57.5,314.9 60.0,312.0 62.5,309.9 65.0,306.5 67.5,303.8 70.0,301.8 72.5,300.4 75.0,299.2 77.5,297.3 80.0,296.1 82.5,294.4 85.0,291.4 87.5,290.0 90.0,288.2 92.5,287.9 95.0,287.8 97.5,283.9 100.0,282.3 102.5,278.6 105.0,275.3 107.5,271.8 110.0,268.9 112.5,265.3 115.0,266.4 117.5,267.3 120.3,265.0 123.2,264.2 126.0,260.9 128.5,257.9 131.0,254.8 134.0,259.5 136.3,258.4 138.7,257.5 141.0,255.9 144.0,260.8 147.5,254.1 150.8,259.3 154.0,263.9 157.0,266.7 160.0,268.7 164.0,261.3 167.0,268.0 170.0,275.9 173.0,278.5 176.0,280.9 179.2,279.3 182.5,279.6 185.0,273.8 187.5,266.1 190.0,261.0 192.5,253.4 195.0,247.6 197.5,248.4 200.0,251.2 203.0,252.7 206.0,254.5 209.2,254.0 212.5,252.4 215.0,256.5 217.5,259.0 220.0,262.5 222.5,264.7 225.0,267.0 229.0,275.2 231.0,299.4 234.0,339.9 238.0,360.2 241.0,372.0 244.0,359.5 247.0,344.8 250.0,350.2 254.0,335.3 258.0,330.5 260.3,328.2 262.7,328.8 265.0,327.9 267.3,327.5 269.7,325.1 272.0,325.0 274.0,320.2 276.5,313.2 279.0,307.4 281.8,305.0 284.5,304.3 287.2,301.2 290.0,299.7 292.5,298.5 295.0,297.3 297.5,297.4 300.0,295.1 302.8,294.1 305.5,294.0 308.2,293.4 311.0,292.6 313.5,285.0 316.0,277.8 318.5,269.4 321.0,262.1 324.2,263.9 327.5,265.7 330.0,265.9 332.5,266.2 335.0,265.4 337.5,264.1 340.8,267.8 344.0,270.8 346.8,269.1 349.7,268.9 352.5,267.1 355.0,266.9 357.5,265.8 360.0,265.2 363.0,265.4 366.0,265.7 369.0,265.8 372.0,262.5 375.0,260.9 377.5,260.3 380.0,259.3 382.5,259.1 385.0,257.0 387.5,256.1 390.0,256.2 392.5,257.6 395.0,261.4 397.5,262.4 400.0,263.6 402.5,260.8 405.8,266.0 409.0,268.5 412.0,270.2 415.0,270.6 417.5,270.0 420.0,266.9 422.5,264.7 425.0,262.5 427.5,261.4 430.0,258.9 432.5,258.9 435.0,256.0 437.5,251.0 440.0,252.7 442.5,253.7 445.0,256.1 447.5,254.6 450.0,253.8 452.7,253.4 455.3,251.7 458.0,249.7 460.3,251.6 462.7,251.4 465.0,252.1 467.3,249.8 469.7,248.0 472.0,245.2 475.0,243.9 478.0,243.2 480.2,240.8 482.5,239.0 486.0,228.0 489.2,226.1 492.5,225.7 495.0,224.7 497.5,223.9 500.8,228.2 504.0,230.5 506.5,236.9 509.0,240.5 511.5,239.0 514.0,238.1 516.5,231.8 519.0,226.2 522.0,225.4 525.0,224.2 527.5,221.5 530.0,219.2 532.5,215.0 535.0,215.3 537.5,214.3 540.0,214.0 543.0,212.6 546.0,211.0 548.7,209.6 551.3,207.2 554.0,206.0 557.0,203.8 560.0,202.2 564.0,207.3 567.0,209.6 570.0,212.5 574.0,212.0 576.0,209.9 579.2,209.3 582.5,209.8 585.0,209.2 587.5,209.0 590.0,207.6 592.5,203.1 595.0,198.9 597.5,195.4 600.0,192.0 602.5,191.5 605.0,188.6 609.0,187.3 610.0,191.0 613.0,188.4 616.0,186.5 619.2,185.3 622.5,184.0 625.8,180.6 629.0,176.0 631.3,175.0 633.7,175.3 636.0,174.4 640.0,171.4 643.0,165.4 646.0,161.6 649.2,158.2 652.5,156.2 655.0,155.1 657.5,153.7 661.0,162.0 665.0,163.7 667.5,170.3 670.0,175.1 672.5,165.9 675.0,170.1 677.5,165.4 680.0,158.9 683.0,161.8 686.0,168.3 689.0,156.8 692.5,165.8 696.0,159.0 698.7,158.4 701.3,158.4 704.0,157.4 706.3,154.7 708.7,152.6 711.0,149.9 714.2,150.1 717.5,151.6 720.0,149.3 722.5,157.0 726.0,156.6 728.7,157.5 731.3,158.1 734.0,159.2 736.3,149.5 738.7,139.8 741.0,131.3 744.0,132.0 746.3,137.5 748.7,141.3 751.0,145.9 755.0,159.6 757.5,158.9 760.3,160.1 763.2,161.1 766.0,163.1 768.7,155.8 771.3,149.4 774.0,141.0 776.3,137.8 778.7,136.5 781.0,134.7 783.7,131.6 786.3,129.2 789.0,127.5 791.0,121.2 795.0,119.4 797.5,118.3 800.0,117.1 803.0,114.6 806.0,110.7 809.0,109.8 812.0,110.1 815.0,110.7 816.0,110.1 819.0,117.4 821.0,111.1 824.0,109.0" stroke="#93CDDD" stroke-width="1.4"/>
<polyline points="17.5,334.0 20.0,332.0 22.5,330.5 25.0,329.3 27.5,329.2 30.0,330.2 32.5,331.1 35.0,330.7 37.3,330.4 39.7,330.6 42.0,330.0 44.3,331.6 46.7,333.0 49.0,335.0 51.5,332.0 54.0,327.4 57.0,323.7 60.0,322.0 63.0,319.4 66.0,317.0 68.5,313.2 71.0,311.0 73.5,312.5 76.0,313.8 78.5,311.7 81.0,308.3 84.2,305.1 87.5,303.0 90.8,304.1 94.0,305.0 97.0,302.2 100.0,300.1 102.5,298.6 105.0,296.3 107.5,294.3 110.0,292.4 112.5,289.8 115.0,286.2 117.5,282.8 120.0,281.2 122.5,279.6 125.0,279.1 127.5,279.6 130.0,281.3 134.0,279.3 137.0,281.9 140.0,287.7 143.0,288.8 146.0,289.3 148.5,289.8 151.0,290.7 154.2,286.5 157.5,281.3 161.0,267.5 164.0,274.7 167.0,277.9 170.0,282.6 173.0,286.9 176.0,292.3 180.0,291.1 182.5,285.5 185.0,278.4 187.5,277.4 190.0,277.2 192.5,275.3 195.0,273.9 197.5,275.4 200.0,275.7 203.0,276.1 206.0,277.5 210.0,274.5 213.0,278.7 216.0,282.5 219.2,283.9 222.5,283.9 226.0,277.2 229.0,277.5 231.0,292.6 234.0,310.3 236.5,319.1 239.0,327.5 242.5,294.9 245.0,297.8 247.5,285.0 250.0,279.5 252.5,276.4 255.0,270.8 257.5,276.1 261.0,270.0 263.5,269.2 266.0,267.3 268.5,266.3 271.0,264.1 273.5,258.1 276.0,252.4 279.0,257.2 281.3,256.0 283.7,256.5 286.0,255.4 289.0,249.0 292.0,242.9 295.0,237.5 297.5,238.1 300.0,237.3 302.5,236.5 305.0,235.7 307.5,239.6 311.0,234.9 313.7,235.3 316.3,235.4 319.0,236.4 321.0,232.6 322.5,234.9 325.0,232.1 327.5,228.7 330.0,227.4 332.5,226.8 335.0,225.2 339.0,229.3 342.0,226.9 345.0,222.2 348.0,220.1 351.0,216.6 354.0,215.1 357.0,218.7 360.0,222.7 362.5,219.2 365.0,217.0 367.5,214.8 370.0,217.4 372.5,217.6 375.0,215.2 377.5,214.0 380.0,214.0 382.5,215.1 385.0,215.8 387.5,218.7 390.0,222.0 392.5,223.7 395.0,222.3 397.5,219.0 400.0,222.6 402.5,225.3 405.0,227.7 407.5,229.5 410.0,228.3 412.5,226.0 415.0,224.6 417.5,222.5 420.0,217.4 422.5,210.5 425.0,210.2 427.5,209.9 430.0,209.7 432.5,208.9 435.0,207.0 437.5,205.0 440.0,206.0 442.5,205.7 445.0,206.1 447.5,204.9 450.0,205.2 452.5,205.7 455.0,207.6 457.5,206.9 460.0,209.1 464.0,215.0 467.0,210.3 470.0,205.8 472.5,205.4 475.0,205.8 477.5,205.1 480.8,202.6 484.0,199.9 487.0,203.9 490.0,207.9 493.0,208.8 496.0,209.9 499.2,213.1 502.5,217.5 505.0,213.5 507.5,209.9 510.0,207.8 512.5,205.3 515.0,202.9 517.5,202.3 520.0,204.6 522.5,204.9 525.0,205.6 527.5,204.2 530.0,204.0 532.5,202.6 535.0,202.7 537.5,202.4 540.0,202.6 542.5,205.1 545.0,206.3 547.5,207.5 551.0,199.6 554.2,202.3 557.5,204.5 560.0,206.6 562.5,207.6 565.0,210.4 567.5,212.9 570.8,214.6 574.0,217.6 576.0,220.4 579.2,214.7 582.5,207.0 585.0,204.9 587.5,204.3 590.0,202.7 594.0,203.9 597.5,200.0 600.3,198.4 603.2,198.0 606.0,195.3 608.5,199.5 611.0,202.1 613.5,205.4 616.0,208.5 619.0,207.1 622.0,206.2 625.0,205.0 627.5,210.5 630.0,213.9 632.5,212.1 635.0,209.8 637.5,207.4 640.0,205.4 642.5,204.4 645.0,203.8 647.5,203.0 650.0,203.4 652.5,203.6 655.0,204.3 656.0,206.0 659.0,202.0 661.5,208.5 664.0,215.2 666.3,211.7 668.7,209.5 671.0,205.8 675.0,205.2 677.5,206.7 680.0,206.1 682.5,204.1 685.0,201.7 687.5,201.5 690.0,200.0 693.0,196.9 696.0,192.3 699.2,192.6 702.5,192.5 705.0,195.1 707.5,203.9 711.0,200.6 713.7,200.7 716.3,200.7 719.0,200.2 721.0,207.2 724.0,208.7 727.5,218.7 730.0,217.0 732.5,215.9 735.8,213.6 739.0,211.6 742.5,225.1 745.0,229.2 747.5,230.8 750.0,235.5 752.5,238.3 755.0,241.1 759.0,234.2 761.3,233.1 763.7,232.5 766.0,230.2 768.5,224.1 771.0,219.5 773.5,218.8 776.0,216.0 779.2,219.9 782.5,221.9 785.0,223.2 787.5,224.9 790.0,224.1 792.5,225.7 795.0,227.0 797.5,229.2 800.0,230.0 802.5,229.8 805.0,230.7 807.5,229.3 810.0,229.9 812.5,228.6 815.0,227.3 819.0,228.8 821.0,225.0 824.0,225.5" stroke="#FF0000" stroke-width="1.4"/>
<polyline points="17.5,334.0 20.6,332.0 23.8,330.3 26.9,328.5 30.0,326.1 33.0,325.9 36.0,323.9 39.0,323.9 42.0,323.1 45.0,321.7 47.5,323.1 50.0,325.1 52.5,321.5 55.0,317.6 57.5,316.2 60.0,315.9 62.5,314.1 65.0,312.0 67.5,310.6 70.0,307.1 72.5,305.1 75.0,303.3 78.0,301.0 81.0,298.8 84.0,298.0 87.0,296.5 89.7,292.5 92.3,291.9 95.0,289.6 97.8,287.1 100.5,283.6 103.2,283.2 106.0,278.8 108.5,277.2 111.0,274.8 113.3,275.4 115.7,276.6 118.0,278.1 120.7,278.0 123.3,276.3 126.0,275.5 128.5,273.9 131.0,274.0 134.0,275.7 137.0,277.0 140.0,281.1 143.0,276.0 146.0,272.6 148.7,274.2 151.3,276.4 154.0,278.7 157.0,280.5 160.0,280.9 164.0,265.0 166.0,267.6 168.7,265.2 171.3,264.2 174.0,262.4 177.0,270.3 180.0,277.4 182.5,275.8 185.0,274.2 187.5,272.1 190.0,268.8 192.5,262.2 195.0,253.7 197.5,255.7 200.0,257.5 203.0,259.3 206.0,260.3 210.0,258.7 212.5,261.2 215.0,264.2 217.5,265.8 220.0,272.7 222.5,277.0 225.0,276.4 227.5,275.2 231.0,290.0 235.0,302.6 237.5,315.6 240.0,327.3 242.5,315.2 245.0,326.3 247.5,312.4 250.3,304.0 253.2,297.3 256.0,290.7 259.0,290.2 262.0,291.1 265.0,290.5 268.0,292.4 271.0,291.2 273.5,286.9 276.0,283.9 279.2,282.1 282.3,279.0 285.5,275.2 288.7,273.5 291.8,270.0 295.0,268.2 298.0,264.1 301.0,261.8 304.0,258.9 307.0,255.3 310.0,252.5 312.5,249.8 315.0,246.1 317.5,242.4 320.0,239.1 324.0,241.5 326.8,240.3 329.5,238.9 332.2,237.5 335.0,235.5 337.5,233.1 340.0,229.9 342.5,233.5 345.0,235.7 347.5,239.1 350.8,234.3 354.0,231.3 356.8,230.5 359.5,230.9 362.2,231.3 365.0,230.9 367.5,228.2 370.0,226.0 372.5,223.0 375.0,222.0 377.5,222.8 380.0,224.2 382.5,224.0 385.0,222.8 387.5,222.5 390.0,225.2 392.5,229.6 395.0,231.2 397.5,233.6 400.0,232.3 402.5,232.1 405.0,236.0 407.5,238.0 410.0,241.6 413.0,242.1 416.0,242.6 419.0,234.2 421.0,237.7 423.9,235.2 426.8,231.3 429.6,228.5 432.5,225.8 435.0,227.0 437.5,227.9 440.0,228.6 442.5,228.1 445.0,229.0 447.5,228.1 450.0,220.7 454.0,216.1 457.0,218.1 460.0,219.7 463.0,221.7 466.0,222.5 469.0,219.5 471.8,220.2 474.5,220.6 477.2,220.0 480.0,222.5 484.0,219.3 487.0,219.3 490.0,221.3 492.5,221.0 495.0,219.3 497.5,219.9 501.0,224.1 505.0,232.7 507.5,231.3 510.0,230.1 512.5,228.9 515.0,227.2 517.5,225.6 520.0,223.7 522.5,224.9 525.0,224.9 527.5,224.0 530.0,222.1 532.5,221.1 535.3,222.4 538.2,224.2 541.0,225.1 543.5,221.9 546.0,217.5 548.5,214.3 551.0,210.9 554.2,211.8 557.5,214.0 560.0,216.2 562.5,217.9 565.0,218.7 568.0,219.6 571.0,220.2 574.0,219.6 577.5,227.6 580.3,226.1 583.2,224.7 586.0,222.6 588.5,220.3 591.0,219.4 594.2,223.5 597.5,224.9 600.0,225.6 602.5,225.2 605.0,224.0 607.5,225.0 610.0,227.7 612.5,228.6 615.0,230.2 617.5,230.0 620.0,229.9 622.5,229.3 625.0,228.7 627.5,229.6 630.0,229.0 632.5,228.0 635.0,227.5 637.5,226.0 640.0,224.8 642.5,224.9 645.0,222.9 648.0,222.5 651.0,221.6 654.0,219.8 657.0,219.6 660.0,219.0 664.0,223.7 666.5,222.0 669.0,221.0 672.0,222.2 675.0,225.2 679.0,224.6 681.0,227.4 683.7,225.5 686.3,224.5 689.0,222.6 691.5,221.0 694.0,218.6 696.5,218.6 699.0,220.6 702.0,222.5 705.0,225.9 708.0,226.8 711.0,229.8 714.2,229.9 717.5,231.2 720.8,231.8 724.0,235.6 727.5,239.9 730.0,240.5 732.5,241.5 735.0,242.9 737.3,241.0 739.7,241.0 742.0,240.4 745.0,243.6 748.0,246.8 750.3,247.4 752.7,246.7 755.0,245.7 757.5,244.2 760.0,242.8 763.0,240.9 766.0,239.4 769.2,232.6 772.5,227.0 776.0,225.0 779.0,224.9 782.0,225.9 785.0,227.2 787.5,226.6 790.0,224.4 792.5,227.0 795.0,227.9 797.5,230.3 800.0,231.2 804.0,230.6 805.0,232.6 807.5,231.2 810.0,229.7 812.5,228.6 815.0,229.8 817.5,230.2 821.0,226.2 824.0,227.0" stroke="#254061" stroke-width="1.4"/>
<polyline points="17.5,334.0 20.0,333.1 22.5,329.5 25.0,329.6 27.5,329.7 30.0,330.6 32.5,331.7 35.0,332.3 37.3,331.8 39.7,329.1 42.0,331.1 44.3,329.9 46.7,332.6 49.0,333.9 51.5,331.1 54.0,326.8 57.0,326.4 60.0,324.0 63.0,320.1 66.0,318.8 68.5,316.0 71.0,314.4 73.5,316.7 76.0,315.0 78.5,314.7 81.0,314.4 84.2,309.1 87.5,307.2 90.8,308.0 94.0,308.6 97.0,304.8 100.0,303.4 102.5,301.8 105.0,303.8 107.5,302.2 110.0,302.1 112.5,298.6 115.0,299.4 118.0,300.0 121.0,301.9 124.0,298.7 127.0,299.2 130.0,298.2 132.5,299.8 135.0,296.8 137.5,297.0 140.3,295.0 143.2,296.9 146.0,295.5 149.2,294.3 152.5,291.7 155.8,292.4 159.0,290.4 162.5,302.5 165.0,305.1 167.5,309.0 170.0,310.4 173.0,314.0 176.0,313.6 180.0,325.3 183.0,323.4 186.0,321.5 189.2,318.6 192.5,315.7 195.0,316.3 197.5,315.0 200.0,315.1 202.5,314.2 205.0,313.8 207.5,317.3 210.0,315.1 212.3,319.2 214.7,318.9 217.0,316.0 219.8,318.4 222.5,319.6 225.8,322.9 229.0,325.8 232.0,351.5 236.0,373.1 238.5,379.8 241.0,388.9 243.5,383.1 246.0,379.4 249.2,378.6 252.5,373.8 255.0,366.8 257.5,361.8 260.0,363.8 262.5,363.3 265.0,363.4 267.5,365.5 270.0,366.7 272.5,365.8 275.0,358.8 277.5,351.7 280.3,354.7 283.2,350.9 286.0,351.5 289.0,348.2 292.0,347.2 295.0,343.2 297.5,344.3 300.0,343.1 302.5,341.7 305.0,340.8 307.5,338.9 310.0,338.7 312.5,338.6 315.0,336.5 317.5,335.9 321.0,325.8 324.0,325.9 327.0,326.3 330.0,329.6 332.5,325.4 335.0,325.1 337.5,324.7 340.0,325.4 342.5,327.5 345.0,331.8 347.5,331.6 350.0,330.6 352.5,332.9 355.0,331.1 357.5,331.8 360.0,329.3 363.1,331.9 366.2,332.9 369.4,330.6 372.5,332.6 375.6,329.1 378.8,327.7 381.9,328.1 385.0,326.8 387.5,330.4 390.0,330.5 392.5,334.1 395.0,333.0 397.5,336.9 400.0,339.9 402.5,343.6 405.0,349.3 408.0,351.5 411.0,350.1 414.0,351.4 416.5,353.2 419.0,354.2 422.5,359.8 425.8,355.7 429.0,355.1 432.0,350.8 435.0,350.8 437.5,349.8 440.0,350.1 442.5,347.9 445.0,346.8 447.5,349.5 450.0,345.8 452.5,346.7 456.0,338.9 458.5,341.8 461.0,346.0 464.2,343.8 467.5,342.8 470.0,340.4 472.5,344.5 475.0,346.3 477.5,346.6 480.0,346.3 482.5,348.1 485.0,343.3 487.5,336.6 490.0,336.4 492.5,335.2 495.0,337.0 497.5,334.6 500.8,340.5 504.0,348.1 507.0,350.4 510.0,355.3 514.0,352.3 517.5,354.6 520.0,353.7 522.5,352.1 525.0,350.2 527.5,346.2 530.0,345.4 532.5,343.7 535.6,345.6 538.8,344.1 541.9,341.0 545.0,341.8 547.5,339.7 550.0,337.0 552.5,334.8 555.0,333.0 557.5,329.6 560.0,329.4 562.5,333.9 565.0,337.3 567.5,338.0 570.0,334.7 572.5,337.4 575.0,335.4 578.0,332.3 581.0,326.4 583.5,329.8 586.0,328.5 589.2,330.8 592.5,333.0 595.0,334.7 597.5,335.8 600.0,334.2 602.5,340.0 605.0,340.6 607.5,341.8 610.0,339.8 612.5,336.0 615.0,337.7 617.5,337.6 620.0,339.4 622.5,340.3 625.0,339.4 627.5,342.2 630.0,343.2 632.5,340.9 635.0,340.4 637.5,340.3 640.8,331.7 644.0,329.6 646.8,326.6 649.7,327.1 652.5,323.5 656.0,320.1 658.5,318.7 661.0,315.9 663.5,318.6 666.0,320.1 669.2,325.9 672.5,325.8 675.0,324.2 677.5,321.4 680.0,317.3 683.0,315.1 686.0,312.9 689.0,305.6 692.5,312.7 695.8,313.2 699.0,309.1 703.0,312.1 706.7,318.1 710.0,322.3 712.2,321.0 714.5,324.3 716.7,321.2 719.9,322.5 723.0,320.9 726.0,317.7 728.0,330.0 730.3,329.8 732.7,329.4 735.0,329.2 737.5,321.4 740.0,310.7 742.5,313.6 745.0,318.3 747.5,318.7 750.0,321.5 752.5,325.0 755.0,329.2 757.5,326.5 759.0,329.3 761.6,325.8 764.1,325.2 766.7,322.2 769.2,316.9 771.7,314.7 774.2,312.0 776.7,309.4 779.2,308.3 781.7,306.9 784.2,309.7 786.7,310.6 789.0,327.3 791.6,328.3 794.1,326.3 796.7,326.0 800.0,330.6 802.2,330.3 804.5,330.1 806.7,326.9 809.5,327.3 812.2,328.2 815.0,326.2 818.0,327.3 821.0,330.5 823.7,326.0" stroke="#C00000" stroke-width="1.4"/>
<polyline points="17.5,333.5 20.0,331.6 22.5,329.8 25.0,329.0 27.5,329.5 30.0,330.2 32.5,329.6 35.0,330.0 37.5,330.1 40.0,330.8 42.5,331.0 45.8,332.1 49.0,334.0 51.5,329.4 54.0,326.0 57.0,324.3 60.0,322.5 63.0,318.9 66.0,316.0 68.5,315.9 71.0,312.5 73.5,315.2 76.0,315.0 78.5,313.3 81.0,311.0 84.2,309.4 87.5,305.0 90.8,307.1 94.0,307.5 97.0,304.6 100.0,302.5 102.5,301.6 105.0,301.6 107.5,301.0 110.0,299.7 112.5,299.7 115.0,297.5 118.0,297.6 121.0,300.0 124.0,298.2 127.0,298.2 130.0,296.0 132.5,298.4 135.0,298.5 137.5,299.0 140.0,299.2 142.5,300.0 145.0,301.0 147.5,302.3 150.0,301.8 152.5,304.0 155.8,304.4 159.0,305.0 162.5,315.0 165.0,318.7 167.5,320.3 170.0,322.5 172.5,324.6 175.0,326.0 179.0,339.0 182.0,335.0 185.0,332.5 187.5,330.4 190.0,328.2 192.5,325.0 195.0,323.1 197.5,322.0 200.0,321.0 202.5,321.7 205.0,322.5 207.5,320.1 210.0,319.0 212.5,321.7 215.0,324.4 217.5,326.0 220.0,328.6 222.5,329.8 225.0,332.5 229.0,336.0 232.0,360.0 236.0,380.0 238.5,386.1 241.0,392.5 243.5,387.4 246.0,382.5 249.2,381.1 252.5,379.0 255.0,372.8 257.5,367.5 260.0,369.3 262.5,369.3 265.0,370.0 267.5,370.3 270.0,371.4 272.5,371.0 275.0,362.7 277.5,354.0 280.3,352.8 283.2,350.0 286.0,349.0 289.0,347.4 292.0,345.6 295.0,342.5 297.5,341.2 300.0,340.3 302.5,337.5 305.0,337.5 307.5,334.5 310.0,334.0 312.5,331.8 315.0,328.6 317.5,326.0 321.0,319.0 324.0,319.5 327.0,317.3 330.0,317.5 332.5,315.6 335.0,315.6 337.5,315.0 340.0,318.3 342.5,318.2 345.0,320.0 347.5,320.8 350.0,318.9 352.5,319.0 355.0,318.4 357.5,316.6 360.0,316.5 362.5,317.5 365.0,316.8 367.5,317.5 370.0,315.1 372.5,312.5 375.6,312.4 378.8,310.9 381.9,311.0 385.0,309.0 387.5,312.1 390.0,313.3 392.5,314.0 395.0,315.2 397.5,315.4 400.0,316.0 402.8,316.5 405.6,319.0 408.4,318.3 411.2,320.4 414.0,322.5 416.8,320.7 419.7,318.4 422.5,317.5 425.0,316.6 427.5,315.9 430.0,315.0 432.5,315.0 435.0,313.7 437.5,311.6 440.0,310.9 442.5,310.0 445.0,310.1 447.5,309.3 450.0,309.2 452.5,307.5 455.0,307.3 457.5,307.0 460.0,305.0 462.5,305.8 465.0,307.9 467.5,309.0 470.0,307.3 472.5,307.0 475.0,305.0 477.5,303.1 480.0,301.9 482.5,302.5 485.0,300.0 487.8,300.4 490.5,299.7 493.2,300.1 496.0,299.0 498.7,300.8 501.3,303.2 504.0,306.0 507.0,310.2 510.0,311.0 512.5,309.4 515.0,308.5 517.5,306.0 520.6,304.5 523.8,303.4 526.9,301.8 530.0,300.0 533.1,300.5 536.2,298.7 539.4,298.1 542.5,297.5 545.6,297.5 548.8,296.1 551.9,295.5 555.0,294.0 557.5,293.7 560.0,294.0 562.5,294.9 565.0,294.0 567.5,295.0 570.0,294.6 572.5,295.0 575.0,295.9 577.5,298.0 580.0,296.5 582.5,294.3 585.0,294.0 588.1,292.1 591.2,291.6 594.4,290.7 597.5,289.0 600.0,287.1 602.5,288.0 605.0,287.1 607.5,286.0 610.0,287.6 612.5,287.5 615.0,285.4 617.5,284.1 620.0,281.4 622.5,281.0 625.0,282.2 627.5,281.3 630.0,282.6 632.5,282.5 635.0,281.1 637.5,280.6 640.0,280.0 642.5,277.5 645.0,276.0 647.5,274.5 650.0,271.0 652.5,268.5 655.0,269.1 657.5,268.4 660.0,265.0 662.5,267.3 665.0,269.2 667.5,271.0 670.0,270.6 672.5,270.9 675.0,270.9 677.5,271.0 680.0,270.9 682.5,270.7 685.0,270.0 687.5,269.0 690.0,269.0 692.5,265.3 695.0,266.0 697.5,265.7 700.0,265.1 702.5,266.5 705.0,265.0 707.5,265.2 710.0,266.2 712.5,267.5 715.0,268.5 717.5,268.7 720.0,269.0 722.5,272.2 725.0,275.9 727.5,280.0 730.8,279.5 734.0,281.0 737.0,276.3 740.0,272.5 742.5,275.5 745.0,280.0 747.5,282.6 750.0,285.9 752.5,288.7 755.0,292.5 757.5,291.0 760.0,291.7 762.5,291.0 765.0,288.2 767.5,285.2 770.0,282.5 774.0,274.0 776.8,273.3 779.7,272.4 782.5,272.5 785.8,273.3 789.0,274.0 791.8,273.5 794.5,272.9 797.2,273.1 800.0,273.0 802.5,272.7 805.0,273.1 807.5,273.5 810.0,273.0 813.0,273.7 816.0,275.8 819.0,276.0 821.5,275.0 824.0,274.0" stroke="#FF0000" stroke-width="3.5"/>
</g>
<g><line x1="69.3" y1="500.5" x2="92.6" y2="500.5" stroke="#729ACA" stroke-width="1.5"/>
<text x="95.5" y="504.2" class="lg">13</text>
<line x1="165.3" y1="500.5" x2="188.6" y2="500.5" stroke="#4F81BD" stroke-width="1.5"/>
<text x="191.5" y="504.2" class="lg">1</text>
<line x1="260.8" y1="500.5" x2="284.1" y2="500.5" stroke="#C0504D" stroke-width="1.5"/>
<text x="287.0" y="504.2" class="lg">2</text>
<line x1="357.3" y1="500.5" x2="380.6" y2="500.5" stroke="#9BBB59" stroke-width="1.5"/>
<text x="383.5" y="504.2" class="lg">3</text>
<line x1="452.8" y1="500.5" x2="476.1" y2="500.5" stroke="#8064A2" stroke-width="1.5"/>
<text x="479.0" y="504.2" class="lg">4</text>
<line x1="548.3" y1="500.5" x2="571.6" y2="500.5" stroke="#4BACC6" stroke-width="1.5"/>
<text x="574.5" y="504.2" class="lg">5</text>
<line x1="644.8" y1="500.5" x2="668.1" y2="500.5" stroke="#F79646" stroke-width="1.5"/>
<text x="671.0" y="504.2" class="lg">6</text>
<line x1="740.3" y1="500.5" x2="763.6" y2="500.5" stroke="#2C4D75" stroke-width="1.5"/>
<text x="766.5" y="504.2" class="lg">7</text>
<line x1="69.3" y1="521.2" x2="92.6" y2="521.2" stroke="#5F7530" stroke-width="1.5"/>
<text x="95.5" y="524.9" class="lg">9</text>
<line x1="165.3" y1="521.2" x2="188.6" y2="521.2" stroke="#4D3B62" stroke-width="1.5"/>
<text x="191.5" y="524.9" class="lg">10</text>
<line x1="261.5" y1="521.2" x2="283.5" y2="521.2" stroke="#772C2A" stroke-width="3" stroke-linecap="round"/>
<circle cx="272.5" cy="521.2" r="3.1" fill="#772C2A"/>
<text x="287.0" y="524.9" class="lg">Datenreihen8</text>
<line x1="357.3" y1="521.2" x2="380.6" y2="521.2" stroke="#276A7C" stroke-width="1.5"/>
<text x="383.5" y="524.9" class="lg">11</text>
<line x1="452.8" y1="521.2" x2="476.1" y2="521.2" stroke="#CD7371" stroke-width="1.5"/>
<text x="479.0" y="524.9" class="lg">14</text>
<line x1="548.3" y1="521.2" x2="571.6" y2="521.2" stroke="#9983B5" stroke-width="1.5"/>
<text x="574.5" y="524.9" class="lg">15</text>
<line x1="644.8" y1="521.2" x2="668.1" y2="521.2" stroke="#F9AB6B" stroke-width="1.5"/>
<text x="671.0" y="524.9" class="lg">17</text>
<line x1="740.3" y1="521.2" x2="763.6" y2="521.2" stroke="#3A679C" stroke-width="1.5"/>
<text x="766.5" y="524.9" class="lg">18</text>
<line x1="70.0" y1="541.7" x2="92.0" y2="541.7" stroke="#B65708" stroke-width="3" stroke-linecap="round"/>
<circle cx="81.0" cy="541.7" r="3.1" fill="#B65708"/>
<text x="95.5" y="545.4" class="lg">Datenreihen12</text>
<line x1="165.3" y1="541.7" x2="188.6" y2="541.7" stroke="#F3740B" stroke-width="1.5"/>
<text x="191.5" y="545.4" class="lg">23</text>
<line x1="261.5" y1="541.7" x2="283.5" y2="541.7" stroke="#AFC97A" stroke-width="3" stroke-linecap="round"/>
<circle cx="272.5" cy="541.7" r="3.1" fill="#AFC97A"/>
<text x="287.0" y="545.4" class="lg">Datenreihen15</text>
<line x1="358.0" y1="541.7" x2="380.0" y2="541.7" stroke="#6FBDD1" stroke-width="3" stroke-linecap="round"/>
<circle cx="369.0" cy="541.7" r="3.1" fill="#6FBDD1"/>
<text x="383.5" y="545.4" class="lg">Datenreihen17</text>
<line x1="452.8" y1="541.7" x2="476.1" y2="541.7" stroke="#9F3B38" stroke-width="1.5"/>
<text x="479.0" y="545.4" class="lg">19</text>
<line x1="548.3" y1="541.7" x2="571.6" y2="541.7" stroke="#7E9D40" stroke-width="1.5"/>
<text x="574.5" y="545.4" class="lg">20</text>
<line x1="644.8" y1="541.7" x2="668.1" y2="541.7" stroke="#C3D69B" stroke-width="1.5"/>
<text x="671.0" y="545.4" class="lg">26</text>
<line x1="740.3" y1="541.7" x2="763.6" y2="541.7" stroke="#664F83" stroke-width="1.5"/>
<text x="766.5" y="545.4" class="lg">21</text>
<line x1="69.3" y1="562.0" x2="92.6" y2="562.0" stroke="#358EA6" stroke-width="1.5"/>
<text x="95.5" y="565.7" class="lg">22</text>
<line x1="165.3" y1="562.0" x2="188.6" y2="562.0" stroke="#D99694" stroke-width="1.5"/>
<text x="191.5" y="565.7" class="lg">25</text>
<line x1="260.8" y1="562.0" x2="284.1" y2="562.0" stroke="#95B3D7" stroke-width="1.5"/>
<text x="287.0" y="565.7" class="lg">24</text>
<line x1="357.3" y1="562.0" x2="380.6" y2="562.0" stroke="#93CDDD" stroke-width="1.5"/>
<text x="383.5" y="565.7" class="lg">27</text>
<line x1="452.8" y1="562.0" x2="476.1" y2="562.0" stroke="#FF0000" stroke-width="1.5"/>
<text x="479.0" y="565.7" class="lg">28</text>
<line x1="548.3" y1="562.0" x2="571.6" y2="562.0" stroke="#254061" stroke-width="1.5"/>
<text x="574.5" y="565.7" class="lg">29</text>
<line x1="644.8" y1="562.0" x2="668.1" y2="562.0" stroke="#C00000" stroke-width="1.5"/>
<text x="671.0" y="565.7" class="lg">30</text>
<line x1="741.5" y1="562.0" x2="762.5" y2="562.0" stroke="#FF0000" stroke-width="4" stroke-linecap="round"/>
<text x="766.5" y="565.7" class="lg">Gesamt</text></g>
</svg>
</body></html>
